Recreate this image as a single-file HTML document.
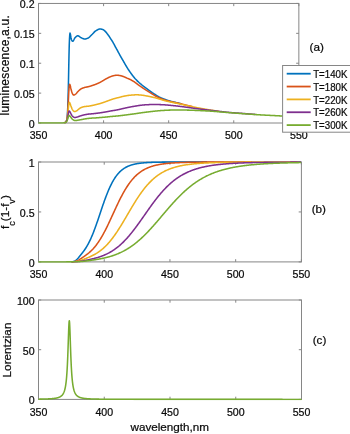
<!DOCTYPE html>
<html><head><meta charset="utf-8"><title>luminescence</title>
<style>
html,body{margin:0;padding:0;background:#fff;}
body{width:350px;height:434px;overflow:hidden;font-family:"Liberation Sans",sans-serif;}
svg{display:block;will-change:transform;transform:translateZ(0);}
text{font-family:"Liberation Sans",sans-serif;fill:#0a0a0a;stroke:#0a0a0a;stroke-width:0.22px;}
.tk{font-size:10.6px;}
.lb{font-size:11.7px;}
.lg{font-size:10.3px;}
.cv{fill:none;stroke-width:1.55;stroke-linejoin:round;stroke-linecap:butt;}
</style></head><body>
<svg width="350" height="434" viewBox="0 0 350 434">
<rect width="350" height="434" fill="#fff"/>
<rect x="38.5" y="3.45" width="260.35" height="119.55" fill="#fff" stroke="#868686" stroke-width="1"/>
<path d="M38.50,123.0v-2.7M38.50,3.45v2.7M103.59,123.0v-2.7M103.59,3.45v2.7M168.68,123.0v-2.7M168.68,3.45v2.7M233.76,123.0v-2.7M233.76,3.45v2.7M298.85,123.0v-2.7M298.85,3.45v2.7M38.5,123.00h2.7M298.85,123.00h-2.7M38.5,93.11h2.7M298.85,93.11h-2.7M38.5,63.23h2.7M298.85,63.23h-2.7M38.5,33.34h2.7M298.85,33.34h-2.7M38.5,3.45h2.7M298.85,3.45h-2.7" stroke="#868686" stroke-width="1" fill="none"/>
<clipPath id="ca"><rect x="38" y="2.5" width="261.5" height="121.3"/></clipPath><g clip-path="url(#ca)">
<path class="cv" stroke="#0072BD" d="M64.50,122.70 L64.75,122.64 L65.00,122.55 L65.25,122.43 L65.50,122.27 L65.75,122.05 L66.00,121.67 L66.25,121.15 L66.50,120.50 L66.75,119.65 L67.00,118.39 L67.25,116.55 L67.50,112.84 L67.75,107.43 L68.00,100.66 L68.25,91.31 L68.50,80.31 L68.75,66.97 L69.00,54.91 L69.25,45.00 L69.50,38.78 L69.75,34.91 L70.00,33.00 L70.25,33.66 L70.50,34.76 L70.75,36.30 L71.00,37.95 L71.25,39.16 L71.50,39.76 L71.75,40.28 L72.00,40.72 L72.25,41.05 L72.50,41.25 L72.75,41.30 L73.00,41.17 L73.25,40.89 L73.50,40.50 L73.75,40.03 L74.00,39.52 L74.25,39.01 L74.50,38.53 L74.75,38.11 L75.00,37.80 L75.25,37.55 L75.50,37.30 L75.75,37.05 L76.00,36.81 L76.25,36.58 L76.50,36.37 L76.75,36.19 L77.00,36.04 L77.25,35.92 L77.50,35.84 L77.75,35.80 L78.00,35.81 L78.25,35.87 L78.50,35.97 L78.75,36.09 L79.00,36.24 L79.25,36.41 L79.50,36.59 L79.75,36.78 L80.00,36.97 L80.25,37.15 L80.50,37.32 L80.75,37.47 L81.00,37.60 L81.25,37.72 L81.50,37.84 L81.75,37.97 L82.00,38.09 L82.25,38.22 L82.50,38.34 L82.75,38.46 L83.00,38.58 L83.25,38.68 L83.50,38.77 L83.75,38.85 L84.00,38.92 L84.25,38.96 L84.50,38.99 L84.75,39.00 L85.00,38.99 L85.25,38.96 L85.50,38.93 L85.75,38.88 L86.00,38.82 L86.25,38.75 L86.50,38.67 L86.75,38.59 L87.00,38.50 L87.25,38.40 L87.50,38.30 L87.75,38.20 L88.00,38.10 L88.25,37.98 L88.50,37.84 L88.75,37.67 L89.00,37.48 L89.25,37.28 L89.50,37.05 L89.75,36.82 L90.00,36.57 L90.25,36.31 L90.50,36.05 L90.75,35.79 L91.00,35.52 L91.25,35.25 L91.50,34.99 L91.75,34.74 L92.00,34.49 L92.25,34.26 L92.50,34.01 L92.75,33.75 L93.00,33.48 L93.25,33.21 L93.50,32.94 L93.75,32.67 L94.00,32.40 L94.25,32.14 L94.50,31.89 L94.75,31.65 L95.00,31.42 L95.25,31.22 L95.50,31.03 L95.75,30.87 L96.00,30.71 L96.25,30.56 L96.50,30.40 L96.75,30.25 L97.00,30.10 L97.25,29.95 L97.50,29.81 L97.75,29.67 L98.00,29.55 L98.25,29.43 L98.50,29.32 L98.75,29.23 L99.00,29.15 L99.25,29.09 L99.50,29.04 L99.75,29.01 L100.00,29.00 L100.25,29.01 L100.50,29.02 L100.75,29.05 L101.00,29.08 L101.25,29.12 L101.50,29.16 L101.75,29.22 L102.00,29.27 L102.25,29.34 L102.50,29.40 L102.75,29.48 L103.00,29.60 L103.25,29.73 L103.50,29.88 L103.75,30.06 L104.00,30.25 L104.25,30.45 L104.50,30.67 L104.75,30.88 L105.00,31.11 L105.25,31.34 L105.50,31.59 L105.75,31.86 L106.00,32.14 L106.25,32.44 L106.50,32.75 L106.75,33.08 L107.00,33.43 L107.25,33.78 L107.50,34.10 L107.75,34.43 L108.00,34.76 L108.25,35.10 L108.50,35.45 L108.75,35.81 L109.00,36.18 L109.25,36.55 L109.50,36.93 L109.75,37.31 L110.00,37.69 L110.25,38.08 L110.50,38.47 L110.75,38.85 L111.00,39.24 L111.25,39.60 L111.50,39.96 L111.75,40.33 L112.00,40.72 L112.25,41.12 L112.50,41.53 L112.75,41.96 L113.00,42.39 L113.25,42.84 L113.50,43.29 L113.75,43.75 L114.00,44.21 L114.25,44.68 L114.50,45.16 L114.75,45.64 L115.00,46.11 L115.25,46.59 L115.50,47.06 L115.75,47.52 L116.00,47.98 L116.25,48.44 L116.50,48.88 L116.75,49.31 L117.00,49.73 L117.25,50.18 L117.50,50.66 L117.75,51.13 L118.00,51.60 L118.25,52.07 L118.50,52.54 L118.75,53.01 L119.00,53.48 L119.25,53.94 L119.50,54.40 L119.75,54.86 L120.00,55.32 L120.25,55.77 L120.50,56.22 L120.75,56.66 L121.00,57.11 L121.25,57.55 L121.50,57.98 L121.75,58.41 L122.00,58.83 L122.25,59.25 L122.50,59.67 L122.75,60.08 L123.00,60.48 L123.25,60.89 L123.50,61.35 L123.75,61.80 L124.00,62.25 L124.25,62.70 L124.50,63.14 L124.75,63.58 L125.00,64.02 L125.25,64.45 L125.50,64.88 L125.75,65.31 L126.00,65.73 L126.25,66.15 L126.50,66.56 L126.75,66.98 L127.00,67.38 L127.25,67.79 L127.50,68.19 L127.75,68.58 L128.00,68.98 L128.25,69.36 L128.50,69.75 L128.75,70.13 L129.00,70.50 L129.25,70.87 L129.50,71.24 L129.75,71.60 L130.00,71.96 L130.25,72.32 L130.50,72.67 L130.75,73.02 L131.00,73.37 L131.25,73.72 L131.50,74.06 L131.75,74.40 L132.00,74.74 L132.25,75.08 L132.50,75.41 L132.75,75.73 L133.00,76.05 L133.25,76.37 L133.50,76.68 L133.75,76.99 L134.00,77.30 L134.25,77.60 L134.50,77.89 L134.75,78.18 L135.00,78.47 L135.25,78.74 L135.50,79.02 L135.75,79.28 L136.00,79.55 L136.25,79.81 L136.50,80.07 L136.75,80.33 L137.00,80.58 L137.25,80.83 L137.50,81.08 L137.75,81.33 L138.00,81.57 L138.25,81.81 L138.50,82.04 L138.75,82.27 L139.00,82.50 L139.25,82.72 L139.50,82.94 L139.75,83.16 L140.00,83.37 L140.25,83.58 L140.50,83.78 L140.75,83.98 L141.00,84.17 L141.25,84.36 L141.50,84.58 L141.75,84.80 L142.00,85.01 L142.25,85.22 L142.50,85.43 L142.75,85.63 L143.00,85.84 L143.25,86.03 L143.50,86.23 L143.75,86.43 L144.00,86.62 L144.25,86.81 L144.50,86.99 L144.75,87.18 L145.00,87.36 L145.25,87.55 L145.50,87.73 L145.75,87.91 L146.00,88.09 L146.25,88.27 L146.50,88.45 L146.75,88.63 L147.00,88.81 L147.25,88.99 L147.50,89.18 L147.75,89.36 L148.00,89.55 L148.25,89.74 L148.50,89.92 L148.75,90.11 L149.00,90.29 L149.25,90.47 L149.50,90.65 L149.75,90.83 L150.00,91.01 L150.25,91.19 L150.50,91.37 L150.75,91.55 L151.00,91.72 L151.25,91.90 L151.50,92.07 L151.75,92.25 L152.00,92.42 L152.25,92.60 L152.50,92.77 L152.75,92.95 L153.00,93.12 L153.25,93.30 L153.50,93.46 L153.75,93.63 L154.00,93.79 L154.25,93.95 L154.50,94.11 L154.75,94.27 L155.00,94.43 L155.25,94.59 L155.50,94.76 L155.75,94.92 L156.00,95.08 L156.25,95.24 L156.50,95.39 L156.75,95.55 L157.00,95.71 L157.25,95.86 L157.50,96.02 L157.75,96.17 L158.00,96.32 L158.25,96.47 L158.50,96.62 L158.75,96.77 L159.00,96.92 L159.25,97.06 L159.50,97.20 L159.75,97.31 L160.00,97.42 L160.25,97.53 L160.50,97.64 L160.75,97.75 L161.00,97.85 L161.25,97.96 L161.50,98.06 L161.75,98.17 L162.00,98.27 L162.25,98.37 L162.50,98.47 L162.75,98.57 L163.00,98.67 L163.25,98.76 L163.50,98.86 L163.75,98.96 L164.00,99.05 L164.25,99.15 L164.50,99.24 L164.75,99.33 L165.00,99.42 L165.25,99.51 L165.50,99.60 L165.75,99.69 L166.00,99.78 L166.25,99.87 L166.50,99.96 L166.75,100.05 L167.00,100.14 L167.25,100.23 L167.50,100.31 L167.75,100.40 L168.00,100.48 L168.25,100.56 L168.50,100.64 L168.75,100.72 L169.00,100.80 L169.25,100.88 L169.50,100.95 L169.75,101.03 L170.00,101.10 L170.25,101.17 L170.50,101.24 L170.75,101.30 L171.00,101.37 L171.25,101.43 L171.50,101.50 L171.75,101.56 L172.00,101.62 L172.25,101.68 L172.50,101.74 L172.75,101.80 L173.00,101.86 L173.25,101.92 L173.50,101.98 L173.75,102.03 L174.00,102.09 L174.25,102.15 L174.50,102.20 L174.75,102.26 L175.00,102.32 L175.25,102.37 L175.50,102.43 L175.75,102.48 L176.00,102.54 L176.25,102.60 L176.50,102.65 L176.75,102.71 L177.00,102.77 L177.25,102.82 L177.50,102.88 L177.75,102.94 L178.00,103.00 L178.25,103.06 L178.50,103.12 L178.75,103.18 L179.00,103.24 L179.25,103.30 L179.50,103.37 L179.75,103.43 L180.00,103.49 L180.25,103.55 L180.50,103.61 L180.75,103.68 L181.00,103.74 L181.25,103.80 L181.50,103.87 L181.75,103.93"/>
<path class="cv" stroke="#D95319" d="M64.50,122.70 L64.75,122.64 L65.00,122.55 L65.25,122.43 L65.50,122.27 L65.75,122.05 L66.00,121.66 L66.25,121.13 L66.50,120.50 L66.75,119.72 L67.00,118.68 L67.25,117.32 L67.50,115.27 L67.75,112.16 L68.00,108.33 L68.25,103.16 L68.50,97.89 L68.75,92.51 L69.00,88.68 L69.25,85.92 L69.50,84.66 L69.75,84.32 L70.00,84.90 L70.25,85.70 L70.50,86.76 L70.75,87.94 L71.00,89.00 L71.25,89.95 L71.50,90.91 L71.75,91.80 L72.00,92.59 L72.25,93.20 L72.50,93.67 L72.75,94.12 L73.00,94.53 L73.25,94.84 L73.50,95.05 L73.75,95.10 L74.00,95.06 L74.25,94.98 L74.50,94.86 L74.75,94.71 L75.00,94.54 L75.25,94.37 L75.50,94.20 L75.75,94.01 L76.00,93.78 L76.25,93.52 L76.50,93.24 L76.75,92.94 L77.00,92.63 L77.25,92.33 L77.50,92.03 L77.75,91.75 L78.00,91.50 L78.25,91.26 L78.50,91.02 L78.75,90.78 L79.00,90.54 L79.25,90.30 L79.50,90.07 L79.75,89.85 L80.00,89.64 L80.25,89.44 L80.50,89.25 L80.75,89.07 L81.00,88.91 L81.25,88.77 L81.50,88.64 L81.75,88.52 L82.00,88.40 L82.25,88.29 L82.50,88.18 L82.75,88.08 L83.00,87.98 L83.25,87.89 L83.50,87.81 L83.75,87.72 L84.00,87.65 L84.25,87.57 L84.50,87.50 L84.75,87.43 L85.00,87.37 L85.25,87.31 L85.50,87.26 L85.75,87.21 L86.00,87.16 L86.25,87.11 L86.50,87.07 L86.75,87.02 L87.00,86.97 L87.25,86.93 L87.50,86.88 L87.75,86.83 L88.00,86.77 L88.25,86.71 L88.50,86.65 L88.75,86.58 L89.00,86.52 L89.25,86.45 L89.50,86.38 L89.75,86.30 L90.00,86.23 L90.25,86.15 L90.50,86.08 L90.75,86.00 L91.00,85.92 L91.25,85.84 L91.50,85.76 L91.75,85.68 L92.00,85.60 L92.25,85.52 L92.50,85.44 L92.75,85.36 L93.00,85.27 L93.25,85.19 L93.50,85.10 L93.75,85.02 L94.00,84.93 L94.25,84.84 L94.50,84.75 L94.75,84.66 L95.00,84.57 L95.25,84.47 L95.50,84.38 L95.75,84.28 L96.00,84.18 L96.25,84.08 L96.50,83.98 L96.75,83.87 L97.00,83.76 L97.25,83.65 L97.50,83.54 L97.75,83.43 L98.00,83.32 L98.25,83.20 L98.50,83.09 L98.75,82.97 L99.00,82.85 L99.25,82.72 L99.50,82.60 L99.75,82.47 L100.00,82.34 L100.25,82.21 L100.50,82.07 L100.75,81.94 L101.00,81.79 L101.25,81.65 L101.50,81.51 L101.75,81.36 L102.00,81.22 L102.25,81.07 L102.50,80.93 L102.75,80.79 L103.00,80.64 L103.25,80.50 L103.50,80.35 L103.75,80.20 L104.00,80.05 L104.25,79.90 L104.50,79.75 L104.75,79.60 L105.00,79.45 L105.25,79.30 L105.50,79.16 L105.75,79.01 L106.00,78.87 L106.25,78.73 L106.50,78.60 L106.75,78.47 L107.00,78.34 L107.25,78.20 L107.50,78.07 L107.75,77.95 L108.00,77.82 L108.25,77.69 L108.50,77.57 L108.75,77.45 L109.00,77.33 L109.25,77.22 L109.50,77.11 L109.75,77.00 L110.00,76.90 L110.25,76.80 L110.50,76.70 L110.75,76.60 L111.00,76.50 L111.25,76.40 L111.50,76.30 L111.75,76.21 L112.00,76.12 L112.25,76.04 L112.50,75.96 L112.75,75.88 L113.00,75.81 L113.25,75.75 L113.50,75.70 L113.75,75.65 L114.00,75.60 L114.25,75.55 L114.50,75.50 L114.75,75.46 L115.00,75.41 L115.25,75.37 L115.50,75.33 L115.75,75.30 L116.00,75.27 L116.25,75.24 L116.50,75.22 L116.75,75.21 L117.00,75.20 L117.25,75.20 L117.50,75.21 L117.75,75.23 L118.00,75.25 L118.25,75.28 L118.50,75.32 L118.75,75.36 L119.00,75.40 L119.25,75.45 L119.50,75.50 L119.75,75.55 L120.00,75.60 L120.25,75.63 L120.50,75.66 L120.75,75.71 L121.00,75.77 L121.25,75.84 L121.50,75.91 L121.75,75.99 L122.00,76.07 L122.25,76.16 L122.50,76.25 L122.75,76.33 L123.00,76.42 L123.25,76.51 L123.50,76.60 L123.75,76.69 L124.00,76.79 L124.25,76.89 L124.50,76.99 L124.75,77.10 L125.00,77.20 L125.25,77.31 L125.50,77.43 L125.75,77.54 L126.00,77.66 L126.25,77.78 L126.50,77.90 L126.75,78.03 L127.00,78.15 L127.25,78.26 L127.50,78.36 L127.75,78.45 L128.00,78.55 L128.25,78.65 L128.50,78.75 L128.75,78.86 L129.00,78.96 L129.25,79.07 L129.50,79.18 L129.75,79.29 L130.00,79.41 L130.25,79.53 L130.50,79.66 L130.75,79.79 L131.00,79.93 L131.25,80.06 L131.50,80.20 L131.75,80.34 L132.00,80.49 L132.25,80.63 L132.50,80.77 L132.75,80.92 L133.00,81.07 L133.25,81.21 L133.50,81.35 L133.75,81.50 L134.00,81.64 L134.25,81.78 L134.50,81.97 L134.75,82.16 L135.00,82.36 L135.25,82.55 L135.50,82.74 L135.75,82.93 L136.00,83.12 L136.25,83.31 L136.50,83.50 L136.75,83.69 L137.00,83.88 L137.25,84.07 L137.50,84.25 L137.75,84.44 L138.00,84.63 L138.25,84.81 L138.50,85.00 L138.75,85.18 L139.00,85.36 L139.25,85.54 L139.50,85.72 L139.75,85.89 L140.00,86.06 L140.25,86.23 L140.50,86.40 L140.75,86.56 L141.00,86.72 L141.25,86.87 L141.50,87.04 L141.75,87.22 L142.00,87.40 L142.25,87.58 L142.50,87.76 L142.75,87.93 L143.00,88.10 L143.25,88.27 L143.50,88.44 L143.75,88.61 L144.00,88.77 L144.25,88.94 L144.50,89.10 L144.75,89.26 L145.00,89.43 L145.25,89.59 L145.50,89.75 L145.75,89.90 L146.00,90.06 L146.25,90.22 L146.50,90.38 L146.75,90.54 L147.00,90.70 L147.25,90.85 L147.50,91.01 L147.75,91.17 L148.00,91.33 L148.25,91.49 L148.50,91.64 L148.75,91.80 L149.00,91.96 L149.25,92.11 L149.50,92.27 L149.75,92.43 L150.00,92.58 L150.25,92.74 L150.50,92.90 L150.75,93.05 L151.00,93.20 L151.25,93.36 L151.50,93.51 L151.75,93.67 L152.00,93.82 L152.25,93.97 L152.50,94.13 L152.75,94.28 L153.00,94.43 L153.25,94.58 L153.50,94.74 L153.75,94.89 L154.00,95.04 L154.25,95.20 L154.50,95.35 L154.75,95.51 L155.00,95.66 L155.25,95.82 L155.50,95.97 L155.75,96.12 L156.00,96.25 L156.25,96.38 L156.50,96.51 L156.75,96.63 L157.00,96.76 L157.25,96.88 L157.50,97.01 L157.75,97.13 L158.00,97.25 L158.25,97.38 L158.50,97.50 L158.75,97.61 L159.00,97.73 L159.25,97.85 L159.50,97.96 L159.75,98.07 L160.00,98.18 L160.25,98.29 L160.50,98.40 L160.75,98.51 L161.00,98.62 L161.25,98.73 L161.50,98.83 L161.75,98.94 L162.00,99.04 L162.25,99.15 L162.50,99.25 L162.75,99.35 L163.00,99.44 L163.25,99.53 L163.50,99.61 L163.75,99.69 L164.00,99.77 L164.25,99.85 L164.50,99.93 L164.75,100.00 L165.00,100.08 L165.25,100.15 L165.50,100.23 L165.75,100.30 L166.00,100.37 L166.25,100.45 L166.50,100.52 L166.75,100.59 L167.00,100.66 L167.25,100.73 L167.50,100.80 L167.75,100.86 L168.00,100.93 L168.25,100.99 L168.50,101.06 L168.75,101.12 L169.00,101.18 L169.25,101.24 L169.50,101.29 L169.75,101.35 L170.00,101.40 L170.25,101.47 L170.50,101.53 L170.75,101.59 L171.00,101.65 L171.25,101.71 L171.50,101.77 L171.75,101.83 L172.00,101.89 L172.25,101.94 L172.50,102.00 L172.75,102.05 L173.00,102.11 L173.25,102.16 L173.50,102.21 L173.75,102.27 L174.00,102.32 L174.25,102.37 L174.50,102.42 L174.75,102.47 L175.00,102.52 L175.25,102.57 L175.50,102.62 L175.75,102.67 L176.00,102.73 L176.25,102.78 L176.50,102.83 L176.75,102.88 L177.00,102.93 L177.25,102.99 L177.50,103.04 L177.75,103.10 L178.00,103.15 L178.25,103.21 L178.50,103.26 L178.75,103.32 L179.00,103.38 L179.25,103.44 L179.50,103.50 L179.75,103.56 L180.00,103.62 L180.25,103.68 L180.50,103.74 L180.75,103.80 L181.00,103.86 L181.25,103.92 L181.50,103.98 L181.75,104.04 L182.00,104.10 L182.25,104.17 L182.50,104.23 L182.75,104.29 L183.00,104.35 L183.25,104.41 L183.50,104.48 L183.75,104.54 L184.00,104.60 L184.25,104.66 L184.50,104.73 L184.75,104.79 L185.00,104.85 L185.25,104.91 L185.50,104.97 L185.75,105.03 L186.00,105.09 L186.25,105.15 L186.50,105.21 L186.75,105.27 L187.00,105.33 L187.25,105.39 L187.50,105.45 L187.75,105.51 L188.00,105.57 L188.25,105.63 L188.50,105.69 L188.75,105.75 L189.00,105.81 L189.25,105.87 L189.50,105.93 L189.75,105.99 L190.00,106.05 L190.25,106.11 L190.50,106.17 L190.75,106.23 L191.00,106.29 L191.25,106.35 L191.50,106.41 L191.75,106.47 L192.00,106.53 L192.25,106.59 L192.50,106.65"/>
<path class="cv" stroke="#EDB120" d="M64.50,122.70 L64.75,122.65 L65.00,122.57 L65.25,122.48 L65.50,122.36 L65.75,122.17 L66.00,121.82 L66.25,121.35 L66.50,120.80 L66.75,120.14 L67.00,119.30 L67.25,118.24 L67.50,116.80 L67.75,114.81 L68.00,112.52 L68.25,109.65 L68.50,107.00 L68.75,104.80 L69.00,103.30 L69.25,102.62 L69.50,102.42 L69.75,102.85 L70.00,103.42 L70.25,104.07 L70.50,104.79 L70.75,105.52 L71.00,106.20 L71.25,106.85 L71.50,107.52 L71.75,108.17 L72.00,108.77 L72.25,109.29 L72.50,109.70 L72.75,110.05 L73.00,110.38 L73.25,110.70 L73.50,110.99 L73.75,111.24 L74.00,111.43 L74.25,111.56 L74.50,111.60 L74.75,111.58 L75.00,111.54 L75.25,111.46 L75.50,111.37 L75.75,111.26 L76.00,111.14 L76.25,111.02 L76.50,110.90 L76.75,110.76 L77.00,110.60 L77.25,110.41 L77.50,110.20 L77.75,109.98 L78.00,109.75 L78.25,109.52 L78.50,109.30 L78.75,109.09 L79.00,108.90 L79.25,108.72 L79.50,108.53 L79.75,108.35 L80.00,108.17 L80.25,108.02 L80.50,107.87 L80.75,107.74 L81.00,107.61 L81.25,107.50 L81.50,107.40 L81.75,107.31 L82.00,107.22 L82.25,107.14 L82.50,107.06 L82.75,106.98 L83.00,106.91 L83.25,106.84 L83.50,106.78 L83.75,106.72 L84.00,106.67 L84.25,106.62 L84.50,106.57 L84.75,106.53 L85.00,106.50 L85.25,106.47 L85.50,106.44 L85.75,106.42 L86.00,106.40 L86.25,106.38 L86.50,106.36 L86.75,106.35 L87.00,106.34 L87.25,106.33 L87.50,106.31 L87.75,106.30 L88.00,106.29 L88.25,106.24 L88.50,106.19 L88.75,106.15 L89.00,106.10 L89.25,106.05 L89.50,106.00 L89.75,105.96 L90.00,105.91 L90.25,105.87 L90.50,105.82 L90.75,105.78 L91.00,105.73 L91.25,105.68 L91.50,105.63 L91.75,105.58 L92.00,105.53 L92.25,105.48 L92.50,105.43 L92.75,105.37 L93.00,105.32 L93.25,105.26 L93.50,105.20 L93.75,105.15 L94.00,105.09 L94.25,105.03 L94.50,104.97 L94.75,104.91 L95.00,104.85 L95.25,104.79 L95.50,104.73 L95.75,104.67 L96.00,104.61 L96.25,104.55 L96.50,104.49 L96.75,104.43 L97.00,104.37 L97.25,104.31 L97.50,104.25 L97.75,104.19 L98.00,104.12 L98.25,104.06 L98.50,103.99 L98.75,103.93 L99.00,103.86 L99.25,103.79 L99.50,103.72 L99.75,103.65 L100.00,103.57 L100.25,103.50 L100.50,103.42 L100.75,103.34 L101.00,103.26 L101.25,103.18 L101.50,103.10 L101.75,103.02 L102.00,102.94 L102.25,102.85 L102.50,102.77 L102.75,102.68 L103.00,102.60 L103.25,102.51 L103.50,102.43 L103.75,102.34 L104.00,102.25 L104.25,102.16 L104.50,102.08 L104.75,101.99 L105.00,101.89 L105.25,101.80 L105.50,101.71 L105.75,101.62 L106.00,101.53 L106.25,101.44 L106.50,101.35 L106.75,101.26 L107.00,101.17 L107.25,101.08 L107.50,100.99 L107.75,100.90 L108.00,100.80 L108.25,100.71 L108.50,100.62 L108.75,100.53 L109.00,100.44 L109.25,100.34 L109.50,100.25 L109.75,100.16 L110.00,100.07 L110.25,99.98 L110.50,99.89 L110.75,99.80 L111.00,99.71 L111.25,99.61 L111.50,99.52 L111.75,99.43 L112.00,99.34 L112.25,99.25 L112.50,99.16 L112.75,99.07 L113.00,98.97 L113.25,98.91 L113.50,98.85 L113.75,98.79 L114.00,98.72 L114.25,98.66 L114.50,98.59 L114.75,98.52 L115.00,98.45 L115.25,98.39 L115.50,98.32 L115.75,98.25 L116.00,98.19 L116.25,98.12 L116.50,98.06 L116.75,97.99 L117.00,97.93 L117.25,97.87 L117.50,97.81 L117.75,97.75 L118.00,97.69 L118.25,97.63 L118.50,97.57 L118.75,97.51 L119.00,97.45 L119.25,97.39 L119.50,97.33 L119.75,97.27 L120.00,97.21 L120.25,97.13 L120.50,97.05 L120.75,96.98 L121.00,96.90 L121.25,96.83 L121.50,96.76 L121.75,96.69 L122.00,96.62 L122.25,96.56 L122.50,96.50 L122.75,96.44 L123.00,96.39 L123.25,96.33 L123.50,96.28 L123.75,96.23 L124.00,96.18 L124.25,96.13 L124.50,96.08 L124.75,96.03 L125.00,95.98 L125.25,95.94 L125.50,95.89 L125.75,95.84 L126.00,95.80 L126.25,95.76 L126.50,95.72 L126.75,95.68 L127.00,95.64 L127.25,95.60 L127.50,95.55 L127.75,95.51 L128.00,95.47 L128.25,95.43 L128.50,95.39 L128.75,95.36 L129.00,95.33 L129.25,95.31 L129.50,95.28 L129.75,95.26 L130.00,95.24 L130.25,95.21 L130.50,95.19 L130.75,95.17 L131.00,95.15 L131.25,95.12 L131.50,95.10 L131.75,95.08 L132.00,95.06 L132.25,95.04 L132.50,95.02 L132.75,95.01 L133.00,94.99 L133.25,94.97 L133.50,94.95 L133.75,94.94 L134.00,94.92 L134.25,94.91 L134.50,94.89 L134.75,94.87 L135.00,94.85 L135.25,94.83 L135.50,94.82 L135.75,94.80 L136.00,94.80 L136.25,94.79 L136.50,94.79 L136.75,94.79 L137.00,94.79 L137.25,94.80 L137.50,94.81 L137.75,94.82 L138.00,94.83 L138.25,94.85 L138.50,94.87 L138.75,94.88 L139.00,94.90 L139.25,94.92 L139.50,94.95 L139.75,94.97 L140.00,94.99 L140.25,95.01 L140.50,95.04 L140.75,95.06 L141.00,95.08 L141.25,95.10 L141.50,95.12 L141.75,95.15 L142.00,95.18 L142.25,95.21 L142.50,95.24 L142.75,95.27 L143.00,95.31 L143.25,95.35 L143.50,95.39 L143.75,95.43 L144.00,95.47 L144.25,95.51 L144.50,95.56 L144.75,95.60 L145.00,95.65 L145.25,95.69 L145.50,95.74 L145.75,95.79 L146.00,95.83 L146.25,95.88 L146.50,95.92 L146.75,95.97 L147.00,96.01 L147.25,96.06 L147.50,96.10 L147.75,96.14 L148.00,96.19 L148.25,96.23 L148.50,96.27 L148.75,96.32 L149.00,96.38 L149.25,96.43 L149.50,96.49 L149.75,96.54 L150.00,96.60 L150.25,96.65 L150.50,96.71 L150.75,96.77 L151.00,96.82 L151.25,96.88 L151.50,96.93 L151.75,96.99 L152.00,97.05 L152.25,97.10 L152.50,97.16 L152.75,97.22 L153.00,97.27 L153.25,97.33 L153.50,97.39 L153.75,97.44 L154.00,97.50 L154.25,97.56 L154.50,97.62 L154.75,97.68 L155.00,97.73 L155.25,97.79 L155.50,97.85 L155.75,97.91 L156.00,97.99 L156.25,98.06 L156.50,98.14 L156.75,98.22 L157.00,98.29 L157.25,98.37 L157.50,98.45 L157.75,98.52 L158.00,98.60 L158.25,98.68 L158.50,98.75 L158.75,98.83 L159.00,98.91 L159.25,98.98 L159.50,99.06 L159.75,99.14 L160.00,99.21 L160.25,99.29 L160.50,99.37 L160.75,99.45 L161.00,99.53 L161.25,99.61 L161.50,99.68 L161.75,99.76 L162.00,99.84 L162.25,99.92 L162.50,100.00 L162.75,100.08 L163.00,100.15 L163.25,100.23 L163.50,100.30 L163.75,100.37 L164.00,100.44 L164.25,100.51 L164.50,100.57 L164.75,100.64 L165.00,100.71 L165.25,100.77 L165.50,100.84 L165.75,100.90 L166.00,100.96 L166.25,101.03 L166.50,101.09 L166.75,101.15 L167.00,101.21 L167.25,101.27 L167.50,101.33 L167.75,101.39 L168.00,101.45 L168.25,101.51 L168.50,101.56 L168.75,101.62 L169.00,101.68 L169.25,101.73 L169.50,101.79 L169.75,101.85 L170.00,101.90 L170.25,101.96 L170.50,102.01 L170.75,102.07 L171.00,102.12 L171.25,102.17 L171.50,102.23 L171.75,102.28 L172.00,102.33 L172.25,102.38 L172.50,102.43 L172.75,102.48 L173.00,102.53 L173.25,102.58 L173.50,102.63 L173.75,102.68 L174.00,102.73 L174.25,102.78 L174.50,102.83 L174.75,102.88 L175.00,102.93 L175.25,102.98 L175.50,103.03 L175.75,103.08 L176.00,103.13 L176.25,103.18 L176.50,103.23 L176.75,103.28 L177.00,103.33 L177.25,103.39 L177.50,103.44 L177.75,103.49 L178.00,103.54 L178.25,103.60 L178.50,103.65 L178.75,103.70 L179.00,103.76 L179.25,103.82 L179.50,103.87 L179.75,103.93 L180.00,103.98 L180.25,104.04 L180.50,104.10 L180.75,104.15 L181.00,104.21 L181.25,104.27 L181.50,104.33 L181.75,104.39 L182.00,104.44 L182.25,104.50 L182.50,104.56 L182.75,104.62 L183.00,104.68 L183.25,104.74 L183.50,104.80 L183.75,104.86 L184.00,104.92 L184.25,104.97 L184.50,105.03 L184.75,105.09 L185.00,105.15 L185.25,105.21 L185.50,105.26 L185.75,105.31 L186.00,105.37 L186.25,105.42 L186.50,105.47 L186.75,105.53 L187.00,105.58 L187.25,105.63 L187.50,105.68 L187.75,105.74 L188.00,105.79 L188.25,105.84 L188.50,105.90 L188.75,105.95 L189.00,106.00 L189.25,106.06 L189.50,106.11 L189.75,106.16 L190.00,106.22 L190.25,106.27 L190.50,106.32 L190.75,106.38 L191.00,106.43 L191.25,106.48 L191.50,106.54 L191.75,106.59 L192.00,106.64 L192.25,106.69 L192.50,106.75 L192.75,106.80 L193.00,106.85 L193.25,106.90 L193.50,106.96 L193.75,107.01 L194.00,107.06 L194.25,107.11 L194.50,107.16 L194.75,107.21 L195.00,107.26 L195.25,107.31 L195.50,107.36 L195.75,107.41 L196.00,107.46 L196.25,107.51 L196.50,107.56 L196.75,107.61 L197.00,107.65 L197.25,107.70 L197.50,107.75 L197.75,107.80 L198.00,107.85 L198.25,107.89 L198.50,107.94 L198.75,107.99 L199.00,108.04 L199.25,108.08 L199.50,108.13 L199.75,108.18 L200.00,108.23 L200.25,108.27 L200.50,108.32 L200.75,108.36 L201.00,108.41 L201.25,108.46 L201.50,108.50 L201.75,108.55 L202.00,108.59 L202.25,108.64 L202.50,108.68 L202.75,108.73 L203.00,108.77 L203.25,108.82 L203.50,108.86 L203.75,108.90 L204.00,108.95 L204.25,108.99 L204.50,109.03 L204.75,109.08 L205.00,109.12 L205.25,109.16 L205.50,109.21 L205.75,109.25 L206.00,109.29 L206.25,109.34 L206.50,109.38 L206.75,109.42 L207.00,109.46 L207.25,109.51 L207.50,109.55 L207.75,109.59 L208.00,109.63 L208.25,109.67 L208.50,109.72 L208.75,109.76 L209.00,109.80 L209.25,109.84 L209.50,109.88 L209.75,109.92 L210.00,109.96 L210.25,110.00 L210.50,110.04 L210.75,110.08 L211.00,110.12 L211.25,110.15 L211.50,110.19 L211.75,110.23 L212.00,110.27 L212.25,110.31 L212.50,110.34 L212.75,110.38 L213.00,110.41 L213.25,110.45 L213.50,110.49 L213.75,110.52 L214.00,110.56 L214.25,110.59 L214.50,110.63 L214.75,110.66 L215.00,110.69 L215.25,110.73 L215.50,110.76 L215.75,110.80 L216.00,110.83 L216.25,110.86 L216.50,110.90 L216.75,110.93 L217.00,110.96 L217.25,110.99 L217.50,111.03 L217.75,111.06 L218.00,111.09 L218.25,111.12 L218.50,111.15 L218.75,111.18"/>
<path class="cv" stroke="#7E2F8E" d="M64.50,122.70 L64.75,122.65 L65.00,122.60 L65.25,122.53 L65.50,122.44 L65.75,122.30 L66.00,122.02 L66.25,121.63 L66.50,121.20 L66.75,120.72 L67.00,120.12 L67.25,119.37 L67.50,118.31 L67.75,116.87 L68.00,115.42 L68.25,113.86 L68.50,112.60 L68.75,111.73 L69.00,111.20 L69.25,111.01 L69.50,111.14 L69.75,111.53 L70.00,111.91 L70.25,112.36 L70.50,112.85 L70.75,113.34 L71.00,113.80 L71.25,114.25 L71.50,114.71 L71.75,115.16 L72.00,115.58 L72.25,115.93 L72.50,116.20 L72.75,116.41 L73.00,116.62 L73.25,116.82 L73.50,117.00 L73.75,117.16 L74.00,117.29 L74.25,117.40 L74.50,117.47 L74.75,117.50 L75.00,117.49 L75.25,117.47 L75.50,117.44 L75.75,117.40 L76.00,117.34 L76.25,117.29 L76.50,117.22 L76.75,117.16 L77.00,117.10 L77.25,117.03 L77.50,116.96 L77.75,116.87 L78.00,116.78 L78.25,116.68 L78.50,116.58 L78.75,116.49 L79.00,116.40 L79.25,116.31 L79.50,116.23 L79.75,116.14 L80.00,116.05 L80.25,115.97 L80.50,115.88 L80.75,115.80 L81.00,115.72 L81.25,115.64 L81.50,115.57 L81.75,115.50 L82.00,115.43 L82.25,115.36 L82.50,115.29 L82.75,115.23 L83.00,115.16 L83.25,115.10 L83.50,115.04 L83.75,114.97 L84.00,114.92 L84.25,114.86 L84.50,114.80 L84.75,114.75 L85.00,114.70 L85.25,114.65 L85.50,114.60 L85.75,114.55 L86.00,114.51 L86.25,114.46 L86.50,114.41 L86.75,114.37 L87.00,114.33 L87.25,114.29 L87.50,114.25 L87.75,114.21 L88.00,114.18 L88.25,114.14 L88.50,114.11 L88.75,114.08 L89.00,114.06 L89.25,114.03 L89.50,114.01 L89.75,113.99 L90.00,113.97 L90.25,113.95 L90.50,113.93 L90.75,113.91 L91.00,113.89 L91.25,113.87 L91.50,113.85 L91.75,113.82 L92.00,113.80 L92.25,113.78 L92.50,113.75 L92.75,113.73 L93.00,113.70 L93.25,113.67 L93.50,113.65 L93.75,113.62 L94.00,113.59 L94.25,113.57 L94.50,113.54 L94.75,113.51 L95.00,113.48 L95.25,113.45 L95.50,113.42 L95.75,113.39 L96.00,113.36 L96.25,113.33 L96.50,113.30 L96.75,113.27 L97.00,113.24 L97.25,113.21 L97.50,113.17 L97.75,113.14 L98.00,113.11 L98.25,113.07 L98.50,113.04 L98.75,113.00 L99.00,112.97 L99.25,112.93 L99.50,112.90 L99.75,112.87 L100.00,112.83 L100.25,112.79 L100.50,112.76 L100.75,112.72 L101.00,112.69 L101.25,112.65 L101.50,112.61 L101.75,112.58 L102.00,112.54 L102.25,112.50 L102.50,112.46 L102.75,112.42 L103.00,112.38 L103.25,112.35 L103.50,112.31 L103.75,112.27 L104.00,112.23 L104.25,112.19 L104.50,112.14 L104.75,112.10 L105.00,112.06 L105.25,112.02 L105.50,111.98 L105.75,111.93 L106.00,111.89 L106.25,111.85 L106.50,111.80 L106.75,111.75 L107.00,111.71 L107.25,111.66 L107.50,111.61 L107.75,111.56 L108.00,111.50 L108.25,111.45 L108.50,111.40 L108.75,111.35 L109.00,111.30 L109.25,111.25 L109.50,111.20 L109.75,111.15 L110.00,111.10 L110.25,111.05 L110.50,111.01 L110.75,110.97 L111.00,110.92 L111.25,110.88 L111.50,110.84 L111.75,110.80 L112.00,110.76 L112.25,110.72 L112.50,110.68 L112.75,110.64 L113.00,110.60 L113.25,110.56 L113.50,110.52 L113.75,110.48 L114.00,110.44 L114.25,110.40 L114.50,110.36 L114.75,110.32 L115.00,110.28 L115.25,110.23 L115.50,110.19 L115.75,110.15 L116.00,110.10 L116.25,110.06 L116.50,110.01 L116.75,109.97 L117.00,109.92 L117.25,109.87 L117.50,109.82 L117.75,109.77 L118.00,109.71 L118.25,109.66 L118.50,109.61 L118.75,109.55 L119.00,109.49 L119.25,109.43 L119.50,109.38 L119.75,109.32 L120.00,109.26 L120.25,109.20 L120.50,109.14 L120.75,109.08 L121.00,109.02 L121.25,108.96 L121.50,108.90 L121.75,108.84 L122.00,108.78 L122.25,108.72 L122.50,108.66 L122.75,108.60 L123.00,108.54 L123.25,108.49 L123.50,108.43 L123.75,108.38 L124.00,108.32 L124.25,108.27 L124.50,108.21 L124.75,108.15 L125.00,108.10 L125.25,108.04 L125.50,107.99 L125.75,107.93 L126.00,107.87 L126.25,107.82 L126.50,107.76 L126.75,107.71 L127.00,107.66 L127.25,107.60 L127.50,107.55 L127.75,107.50 L128.00,107.44 L128.25,107.39 L128.50,107.34 L128.75,107.29 L129.00,107.24 L129.25,107.19 L129.50,107.14 L129.75,107.09 L130.00,107.04 L130.25,107.00 L130.50,106.95 L130.75,106.90 L131.00,106.85 L131.25,106.81 L131.50,106.76 L131.75,106.72 L132.00,106.67 L132.25,106.62 L132.50,106.58 L132.75,106.54 L133.00,106.49 L133.25,106.45 L133.50,106.40 L133.75,106.36 L134.00,106.32 L134.25,106.27 L134.50,106.23 L134.75,106.19 L135.00,106.15 L135.25,106.11 L135.50,106.07 L135.75,106.03 L136.00,105.98 L136.25,105.94 L136.50,105.90 L136.75,105.86 L137.00,105.82 L137.25,105.78 L137.50,105.74 L137.75,105.69 L138.00,105.65 L138.25,105.61 L138.50,105.58 L138.75,105.54 L139.00,105.50 L139.25,105.46 L139.50,105.43 L139.75,105.39 L140.00,105.36 L140.25,105.32 L140.50,105.29 L140.75,105.26 L141.00,105.23 L141.25,105.21 L141.50,105.18 L141.75,105.15 L142.00,105.13 L142.25,105.10 L142.50,105.08 L142.75,105.05 L143.00,105.03 L143.25,105.00 L143.50,104.98 L143.75,104.96 L144.00,104.94 L144.25,104.91 L144.50,104.89 L144.75,104.87 L145.00,104.85 L145.25,104.83 L145.50,104.81 L145.75,104.80 L146.00,104.78 L146.25,104.76 L146.50,104.75 L146.75,104.73 L147.00,104.72 L147.25,104.71 L147.50,104.70 L147.75,104.68 L148.00,104.67 L148.25,104.66 L148.50,104.65 L148.75,104.64 L149.00,104.62 L149.25,104.61 L149.50,104.60 L149.75,104.59 L150.00,104.58 L150.25,104.57 L150.50,104.56 L150.75,104.55 L151.00,104.54 L151.25,104.54 L151.50,104.53 L151.75,104.52 L152.00,104.52 L152.25,104.51 L152.50,104.51 L152.75,104.50 L153.00,104.50 L153.25,104.50 L153.50,104.50 L153.75,104.50 L154.00,104.50 L154.25,104.50 L154.50,104.50 L154.75,104.51 L155.00,104.51 L155.25,104.51 L155.50,104.52 L155.75,104.52 L156.00,104.52 L156.25,104.53 L156.50,104.53 L156.75,104.54 L157.00,104.54 L157.25,104.55 L157.50,104.55 L157.75,104.56 L158.00,104.56 L158.25,104.57 L158.50,104.58 L158.75,104.58 L159.00,104.59 L159.25,104.59 L159.50,104.60 L159.75,104.61 L160.00,104.61 L160.25,104.62 L160.50,104.63 L160.75,104.64 L161.00,104.65 L161.25,104.66 L161.50,104.67 L161.75,104.68 L162.00,104.69 L162.25,104.71 L162.50,104.72 L162.75,104.73 L163.00,104.75 L163.25,104.76 L163.50,104.78 L163.75,104.79 L164.00,104.81 L164.25,104.82 L164.50,104.84 L164.75,104.85 L165.00,104.87 L165.25,104.88 L165.50,104.90 L165.75,104.92 L166.00,104.93 L166.25,104.95 L166.50,104.97 L166.75,104.99 L167.00,105.02 L167.25,105.04 L167.50,105.06 L167.75,105.08 L168.00,105.11 L168.25,105.13 L168.50,105.15 L168.75,105.18 L169.00,105.20 L169.25,105.23 L169.50,105.25 L169.75,105.28 L170.00,105.30 L170.25,105.32 L170.50,105.35 L170.75,105.37 L171.00,105.40 L171.25,105.42 L171.50,105.45 L171.75,105.47 L172.00,105.49 L172.25,105.52 L172.50,105.54 L172.75,105.57 L173.00,105.59 L173.25,105.62 L173.50,105.65 L173.75,105.67 L174.00,105.70 L174.25,105.72 L174.50,105.75 L174.75,105.78 L175.00,105.80 L175.25,105.83 L175.50,105.85 L175.75,105.88 L176.00,105.91 L176.25,105.94 L176.50,105.96 L176.75,105.99 L177.00,106.02 L177.25,106.05 L177.50,106.07 L177.75,106.10 L178.00,106.13 L178.25,106.16 L178.50,106.19 L178.75,106.22 L179.00,106.25 L179.25,106.28 L179.50,106.31 L179.75,106.34 L180.00,106.37 L180.25,106.40 L180.50,106.43 L180.75,106.46 L181.00,106.49 L181.25,106.52 L181.50,106.55 L181.75,106.59 L182.00,106.62 L182.25,106.65 L182.50,106.68 L182.75,106.72 L183.00,106.75 L183.25,106.78 L183.50,106.82 L183.75,106.85 L184.00,106.88 L184.25,106.92 L184.50,106.95 L184.75,106.98 L185.00,107.02 L185.25,107.05 L185.50,107.08 L185.75,107.12 L186.00,107.15 L186.25,107.19 L186.50,107.22 L186.75,107.25 L187.00,107.29 L187.25,107.32 L187.50,107.35 L187.75,107.39 L188.00,107.42 L188.25,107.46 L188.50,107.49 L188.75,107.53 L189.00,107.56 L189.25,107.60 L189.50,107.63 L189.75,107.67 L190.00,107.70 L190.25,107.74 L190.50,107.77 L190.75,107.81 L191.00,107.84 L191.25,107.88 L191.50,107.92 L191.75,107.95 L192.00,107.99 L192.25,108.02 L192.50,108.06 L192.75,108.09 L193.00,108.13 L193.25,108.16 L193.50,108.20 L193.75,108.23 L194.00,108.27 L194.25,108.30 L194.50,108.34 L194.75,108.37 L195.00,108.41 L195.25,108.44 L195.50,108.47 L195.75,108.51 L196.00,108.54 L196.25,108.57 L196.50,108.61 L196.75,108.64 L197.00,108.67 L197.25,108.71 L197.50,108.74 L197.75,108.77 L198.00,108.80 L198.25,108.84 L198.50,108.87 L198.75,108.90 L199.00,108.93 L199.25,108.97 L199.50,109.00 L199.75,109.03 L200.00,109.06 L200.25,109.09 L200.50,109.13 L200.75,109.16 L201.00,109.19 L201.25,109.22 L201.50,109.25 L201.75,109.28 L202.00,109.32 L202.25,109.35 L202.50,109.38 L202.75,109.41 L203.00,109.44 L203.25,109.47 L203.50,109.50 L203.75,109.53 L204.00,109.56 L204.25,109.59 L204.50,109.62 L204.75,109.65 L205.00,109.68 L205.25,109.71 L205.50,109.74 L205.75,109.77 L206.00,109.80 L206.25,109.83 L206.50,109.86 L206.75,109.89 L207.00,109.92 L207.25,109.95 L207.50,109.98 L207.75,110.01 L208.00,110.04 L208.25,110.07 L208.50,110.09 L208.75,110.12 L209.00,110.15 L209.25,110.18 L209.50,110.21 L209.75,110.24 L210.00,110.27 L210.25,110.29 L210.50,110.32 L210.75,110.35 L211.00,110.38 L211.25,110.41 L211.50,110.44 L211.75,110.47 L212.00,110.50 L212.25,110.52 L212.50,110.55 L212.75,110.58 L213.00,110.61 L213.25,110.64 L213.50,110.67 L213.75,110.70 L214.00,110.73 L214.25,110.76 L214.50,110.79 L214.75,110.82 L215.00,110.85 L215.25,110.88 L215.50,110.91 L215.75,110.94 L216.00,110.97 L216.25,111.00 L216.50,111.03 L216.75,111.06 L217.00,111.09 L217.25,111.12 L217.50,111.15 L217.75,111.18 L218.00,111.21 L218.25,111.24 L218.50,111.27 L218.75,111.30 L219.00,111.33 L219.25,111.36 L219.50,111.38 L219.75,111.41 L220.00,111.44 L220.25,111.47 L220.50,111.50 L220.75,111.53 L221.00,111.56 L221.25,111.58 L221.50,111.61 L221.75,111.64 L222.00,111.67 L222.25,111.69 L222.50,111.72 L222.75,111.75 L223.00,111.78 L223.25,111.81 L223.50,111.83 L223.75,111.86 L224.00,111.89 L224.25,111.92 L224.50,111.94 L224.75,111.97 L225.00,112.00 L225.25,112.03 L225.50,112.05 L225.75,112.08 L226.00,112.11 L226.25,112.13 L226.50,112.16 L226.75,112.19 L227.00,112.21 L227.25,112.24 L227.50,112.26 L227.75,112.29 L228.00,112.31 L228.25,112.34 L228.50,112.36 L228.75,112.39 L229.00,112.41 L229.25,112.43 L229.50,112.46 L229.75,112.48 L230.00,112.50 L230.25,112.52 L230.50,112.54 L230.75,112.56 L231.00,112.59 L231.25,112.61 L231.50,112.63 L231.75,112.65 L232.00,112.67 L232.25,112.69 L232.50,112.71 L232.75,112.73 L233.00,112.75 L233.25,112.76 L233.50,112.78 L233.75,112.80 L234.00,112.82 L234.25,112.84 L234.50,112.86 L234.75,112.88 L235.00,112.89 L235.25,112.91 L235.50,112.93 L235.75,112.95 L236.00,112.97 L236.25,112.98 L236.50,113.00 L236.75,113.02 L237.00,113.04 L237.25,113.05 L237.50,113.07 L237.75,113.09 L238.00,113.11 L238.25,113.12 L238.50,113.14 L238.75,113.16 L239.00,113.18 L239.25,113.19 L239.50,113.21 L239.75,113.23 L240.00,113.25 L240.25,113.26 L240.50,113.28 L240.75,113.30 L241.00,113.32 L241.25,113.34 L241.50,113.36 L241.75,113.37 L242.00,113.39 L242.25,113.41 L242.50,113.43 L242.75,113.45 L243.00,113.47 L243.25,113.49 L243.50,113.51 L243.75,113.53 L244.00,113.55 L244.25,113.56 L244.50,113.58 L244.75,113.60 L245.00,113.62 L245.25,113.64 L245.50,113.66 L245.75,113.68 L246.00,113.70 L246.25,113.72 L246.50,113.74 L246.75,113.76 L247.00,113.78 L247.25,113.80 L247.50,113.82 L247.75,113.84 L248.00,113.86 L248.25,113.88 L248.50,113.90 L248.75,113.92 L249.00,113.94 L249.25,113.96 L249.50,113.98 L249.75,114.00 L250.00,114.02 L250.25,114.04 L250.50,114.06 L250.75,114.08 L251.00,114.10 L251.25,114.12 L251.50,114.14 L251.75,114.16 L252.00,114.18 L252.25,114.20 L252.50,114.22 L252.75,114.24 L253.00,114.26 L253.25,114.28 L253.50,114.30 L253.75,114.31 L254.00,114.33 L254.25,114.35 L254.50,114.37 L254.75,114.39 L255.00,114.41 L255.25,114.43 L255.50,114.44"/>
<path class="cv" stroke="#77AC30" d="M38.50,123.00 L38.75,123.00 L39.00,123.00 L39.25,123.00 L39.50,123.00 L39.75,123.00 L40.00,123.00 L40.25,123.00 L40.50,123.00 L40.75,123.00 L41.00,123.00 L41.25,123.00 L41.50,123.00 L41.75,123.00 L42.00,123.00 L42.25,123.00 L42.50,123.00 L42.75,123.00 L43.00,123.00 L43.25,123.00 L43.50,123.00 L43.75,123.00 L44.00,123.00 L44.25,123.00 L44.50,123.00 L44.75,123.00 L45.00,123.00 L45.25,123.00 L45.50,123.00 L45.75,123.00 L46.00,123.00 L46.25,123.00 L46.50,123.00 L46.75,123.00 L47.00,123.00 L47.25,123.00 L47.50,123.00 L47.75,123.00 L48.00,123.00 L48.25,123.00 L48.50,123.00 L48.75,123.00 L49.00,123.00 L49.25,123.00 L49.50,123.00 L49.75,123.00 L50.00,123.00 L50.25,123.00 L50.50,123.00 L50.75,123.00 L51.00,123.00 L51.25,123.00 L51.50,123.00 L51.75,123.00 L52.00,123.00 L52.25,123.00 L52.50,123.00 L52.75,123.00 L53.00,123.00 L53.25,123.00 L53.50,123.00 L53.75,123.00 L54.00,123.00 L54.25,123.00 L54.50,123.00 L54.75,123.00 L55.00,123.00 L55.25,123.00 L55.50,123.00 L55.75,123.00 L56.00,123.00 L56.25,123.00 L56.50,123.00 L56.75,123.00 L57.00,123.00 L57.25,123.00 L57.50,123.00 L57.75,123.00 L58.00,123.00 L58.25,123.00 L58.50,123.00 L58.75,123.00 L59.00,123.00 L59.25,123.00 L59.50,123.00 L59.75,123.00 L60.00,123.00 L60.25,123.00 L60.50,123.00 L60.75,123.00 L61.00,123.00 L61.25,123.00 L61.50,123.00 L61.75,123.00 L62.00,123.00 L62.25,122.99 L62.50,122.98 L62.75,122.96 L63.00,122.93 L63.25,122.90 L63.50,122.86 L63.75,122.82 L64.00,122.78 L64.25,122.74 L64.50,122.70 L64.75,122.67 L65.00,122.63 L65.25,122.59 L65.50,122.53 L65.75,122.43 L66.00,122.21 L66.25,121.92 L66.50,121.60 L66.75,121.25 L67.00,120.83 L67.25,120.31 L67.50,119.61 L67.75,118.71 L68.00,117.88 L68.25,117.06 L68.50,116.40 L68.75,115.90 L69.00,115.60 L69.25,115.50 L69.50,115.59 L69.75,115.85 L70.00,116.12 L70.25,116.44 L70.50,116.80 L70.75,117.16 L71.00,117.50 L71.25,117.83 L71.50,118.17 L71.75,118.50 L72.00,118.82 L72.25,119.09 L72.50,119.30 L72.75,119.48 L73.00,119.65 L73.25,119.82 L73.50,119.98 L73.75,120.12 L74.00,120.25 L74.25,120.35 L74.50,120.43 L74.75,120.48 L75.00,120.50 L75.25,120.50 L75.50,120.49 L75.75,120.48 L76.00,120.46 L76.25,120.44 L76.50,120.41 L76.75,120.39 L77.00,120.36 L77.25,120.33 L77.50,120.30 L77.75,120.26 L78.00,120.22 L78.25,120.16 L78.50,120.11 L78.75,120.05 L79.00,120.00 L79.25,119.96 L79.50,119.91 L79.75,119.87 L80.00,119.83 L80.25,119.79 L80.50,119.75 L80.75,119.71 L81.00,119.67 L81.25,119.63 L81.50,119.58 L81.75,119.54 L82.00,119.49 L82.25,119.44 L82.50,119.39 L82.75,119.34 L83.00,119.28 L83.25,119.23 L83.50,119.18 L83.75,119.13 L84.00,119.08 L84.25,119.03 L84.50,118.99 L84.75,118.94 L85.00,118.90 L85.25,118.86 L85.50,118.82 L85.75,118.78 L86.00,118.74 L86.25,118.71 L86.50,118.67 L86.75,118.63 L87.00,118.60 L87.25,118.56 L87.50,118.53 L87.75,118.50 L88.00,118.47 L88.25,118.44 L88.50,118.41 L88.75,118.38 L89.00,118.36 L89.25,118.33 L89.50,118.31 L89.75,118.28 L90.00,118.26 L90.25,118.24 L90.50,118.22 L90.75,118.19 L91.00,118.17 L91.25,118.15 L91.50,118.14 L91.75,118.12 L92.00,118.10 L92.25,118.08 L92.50,118.07 L92.75,118.05 L93.00,118.04 L93.25,118.03 L93.50,118.02 L93.75,118.00 L94.00,117.99 L94.25,117.98 L94.50,117.97 L94.75,117.95 L95.00,117.94 L95.25,117.93 L95.50,117.91 L95.75,117.90 L96.00,117.88 L96.25,117.86 L96.50,117.84 L96.75,117.83 L97.00,117.81 L97.25,117.79 L97.50,117.77 L97.75,117.75 L98.00,117.73 L98.25,117.71 L98.50,117.68 L98.75,117.66 L99.00,117.64 L99.25,117.62 L99.50,117.60 L99.75,117.58 L100.00,117.56 L100.25,117.54 L100.50,117.51 L100.75,117.49 L101.00,117.47 L101.25,117.45 L101.50,117.42 L101.75,117.40 L102.00,117.38 L102.25,117.36 L102.50,117.33 L102.75,117.31 L103.00,117.29 L103.25,117.27 L103.50,117.25 L103.75,117.23 L104.00,117.21 L104.25,117.19 L104.50,117.17 L104.75,117.15 L105.00,117.13 L105.25,117.11 L105.50,117.09 L105.75,117.07 L106.00,117.05 L106.25,117.02 L106.50,117.00 L106.75,116.98 L107.00,116.95 L107.25,116.92 L107.50,116.89 L107.75,116.86 L108.00,116.83 L108.25,116.80 L108.50,116.77 L108.75,116.74 L109.00,116.71 L109.25,116.68 L109.50,116.65 L109.75,116.63 L110.00,116.60 L110.25,116.58 L110.50,116.55 L110.75,116.53 L111.00,116.51 L111.25,116.48 L111.50,116.46 L111.75,116.44 L112.00,116.42 L112.25,116.40 L112.50,116.38 L112.75,116.36 L113.00,116.34 L113.25,116.32 L113.50,116.30 L113.75,116.28 L114.00,116.26 L114.25,116.24 L114.50,116.22 L114.75,116.21 L115.00,116.18 L115.25,116.16 L115.50,116.14 L115.75,116.12 L116.00,116.10 L116.25,116.08 L116.50,116.06 L116.75,116.03 L117.00,116.01 L117.25,115.99 L117.50,115.96 L117.75,115.93 L118.00,115.91 L118.25,115.88 L118.50,115.86 L118.75,115.83 L119.00,115.80 L119.25,115.77 L119.50,115.74 L119.75,115.72 L120.00,115.69 L120.25,115.66 L120.50,115.63 L120.75,115.60 L121.00,115.57 L121.25,115.54 L121.50,115.51 L121.75,115.48 L122.00,115.45 L122.25,115.42 L122.50,115.39 L122.75,115.36 L123.00,115.32 L123.25,115.29 L123.50,115.26 L123.75,115.23 L124.00,115.20 L124.25,115.17 L124.50,115.13 L124.75,115.10 L125.00,115.07 L125.25,115.04 L125.50,115.00 L125.75,114.97 L126.00,114.93 L126.25,114.90 L126.50,114.87 L126.75,114.83 L127.00,114.80 L127.25,114.76 L127.50,114.73 L127.75,114.70 L128.00,114.66 L128.25,114.63 L128.50,114.59 L128.75,114.56 L129.00,114.53 L129.25,114.49 L129.50,114.46 L129.75,114.43 L130.00,114.40 L130.25,114.36 L130.50,114.33 L130.75,114.30 L131.00,114.27 L131.25,114.23 L131.50,114.20 L131.75,114.17 L132.00,114.14 L132.25,114.11 L132.50,114.07 L132.75,114.04 L133.00,114.01 L133.25,113.98 L133.50,113.94 L133.75,113.91 L134.00,113.88 L134.25,113.84 L134.50,113.81 L134.75,113.78 L135.00,113.74 L135.25,113.71 L135.50,113.67 L135.75,113.64 L136.00,113.60 L136.25,113.56 L136.50,113.53 L136.75,113.49 L137.00,113.45 L137.25,113.41 L137.50,113.37 L137.75,113.34 L138.00,113.30 L138.25,113.26 L138.50,113.22 L138.75,113.18 L139.00,113.14 L139.25,113.10 L139.50,113.06 L139.75,113.03 L140.00,112.99 L140.25,112.95 L140.50,112.91 L140.75,112.88 L141.00,112.84 L141.25,112.81 L141.50,112.77 L141.75,112.74 L142.00,112.70 L142.25,112.67 L142.50,112.63 L142.75,112.60 L143.00,112.57 L143.25,112.53 L143.50,112.50 L143.75,112.47 L144.00,112.43 L144.25,112.40 L144.50,112.37 L144.75,112.34 L145.00,112.30 L145.25,112.27 L145.50,112.24 L145.75,112.21 L146.00,112.18 L146.25,112.14 L146.50,112.11 L146.75,112.08 L147.00,112.05 L147.25,112.02 L147.50,111.99 L147.75,111.96 L148.00,111.93 L148.25,111.90 L148.50,111.87 L148.75,111.83 L149.00,111.80 L149.25,111.77 L149.50,111.74 L149.75,111.71 L150.00,111.68 L150.25,111.66 L150.50,111.63 L150.75,111.60 L151.00,111.57 L151.25,111.54 L151.50,111.51 L151.75,111.48 L152.00,111.45 L152.25,111.43 L152.50,111.40 L152.75,111.37 L153.00,111.34 L153.25,111.32 L153.50,111.29 L153.75,111.26 L154.00,111.24 L154.25,111.21 L154.50,111.18 L154.75,111.16 L155.00,111.13 L155.25,111.10 L155.50,111.08 L155.75,111.05 L156.00,111.03 L156.25,111.00 L156.50,110.97 L156.75,110.95 L157.00,110.92 L157.25,110.90 L157.50,110.88 L157.75,110.85 L158.00,110.83 L158.25,110.81 L158.50,110.78 L158.75,110.76 L159.00,110.74 L159.25,110.72 L159.50,110.70 L159.75,110.68 L160.00,110.66 L160.25,110.64 L160.50,110.62 L160.75,110.60 L161.00,110.59 L161.25,110.57 L161.50,110.55 L161.75,110.53 L162.00,110.51 L162.25,110.50 L162.50,110.48 L162.75,110.46 L163.00,110.45 L163.25,110.43 L163.50,110.42 L163.75,110.40 L164.00,110.38 L164.25,110.37 L164.50,110.36 L164.75,110.34 L165.00,110.33 L165.25,110.31 L165.50,110.30 L165.75,110.29 L166.00,110.27 L166.25,110.26 L166.50,110.25 L166.75,110.23 L167.00,110.22 L167.25,110.21 L167.50,110.19 L167.75,110.18 L168.00,110.17 L168.25,110.16 L168.50,110.15 L168.75,110.14 L169.00,110.13 L169.25,110.12 L169.50,110.11 L169.75,110.11 L170.00,110.10 L170.25,110.10 L170.50,110.09 L170.75,110.09 L171.00,110.08 L171.25,110.08 L171.50,110.07 L171.75,110.07 L172.00,110.06 L172.25,110.06 L172.50,110.05 L172.75,110.05 L173.00,110.05 L173.25,110.04 L173.50,110.04 L173.75,110.04 L174.00,110.03 L174.25,110.03 L174.50,110.03 L174.75,110.02 L175.00,110.02 L175.25,110.02 L175.50,110.02 L175.75,110.01 L176.00,110.01 L176.25,110.01 L176.50,110.01 L176.75,110.01 L177.00,110.00 L177.25,110.00 L177.50,110.00 L177.75,110.00 L178.00,110.00 L178.25,110.00 L178.50,110.00 L178.75,110.00 L179.00,110.00 L179.25,110.00 L179.50,110.00 L179.75,110.00 L180.00,110.00 L180.25,110.01 L180.50,110.01 L180.75,110.01 L181.00,110.01 L181.25,110.01 L181.50,110.02 L181.75,110.02 L182.00,110.02 L182.25,110.02 L182.50,110.03 L182.75,110.03 L183.00,110.03 L183.25,110.04 L183.50,110.04 L183.75,110.04 L184.00,110.05 L184.25,110.05 L184.50,110.06 L184.75,110.06 L185.00,110.06 L185.25,110.07 L185.50,110.07 L185.75,110.08 L186.00,110.08 L186.25,110.09 L186.50,110.09 L186.75,110.09 L187.00,110.10 L187.25,110.10 L187.50,110.11 L187.75,110.11 L188.00,110.12 L188.25,110.12 L188.50,110.13 L188.75,110.14 L189.00,110.14 L189.25,110.15 L189.50,110.16 L189.75,110.17 L190.00,110.18 L190.25,110.18 L190.50,110.19 L190.75,110.20 L191.00,110.21 L191.25,110.22 L191.50,110.23 L191.75,110.24 L192.00,110.25 L192.25,110.26 L192.50,110.27 L192.75,110.28 L193.00,110.29 L193.25,110.30 L193.50,110.31 L193.75,110.32 L194.00,110.33 L194.25,110.34 L194.50,110.35 L194.75,110.36 L195.00,110.37 L195.25,110.38 L195.50,110.39 L195.75,110.40 L196.00,110.41 L196.25,110.42 L196.50,110.43 L196.75,110.44 L197.00,110.45 L197.25,110.46 L197.50,110.47 L197.75,110.49 L198.00,110.50 L198.25,110.51 L198.50,110.52 L198.75,110.53 L199.00,110.54 L199.25,110.55 L199.50,110.56 L199.75,110.58 L200.00,110.59 L200.25,110.60 L200.50,110.61 L200.75,110.62 L201.00,110.63 L201.25,110.65 L201.50,110.66 L201.75,110.67 L202.00,110.68 L202.25,110.70 L202.50,110.71 L202.75,110.72 L203.00,110.73 L203.25,110.75 L203.50,110.76 L203.75,110.77 L204.00,110.78 L204.25,110.80 L204.50,110.81 L204.75,110.82 L205.00,110.84 L205.25,110.85 L205.50,110.86 L205.75,110.88 L206.00,110.89 L206.25,110.90 L206.50,110.92 L206.75,110.93 L207.00,110.94 L207.25,110.96 L207.50,110.97 L207.75,110.98 L208.00,111.00 L208.25,111.01 L208.50,111.03 L208.75,111.04 L209.00,111.06 L209.25,111.07 L209.50,111.08 L209.75,111.10 L210.00,111.11 L210.25,111.13 L210.50,111.14 L210.75,111.16 L211.00,111.18 L211.25,111.19 L211.50,111.21 L211.75,111.22 L212.00,111.24 L212.25,111.26 L212.50,111.27 L212.75,111.29 L213.00,111.31 L213.25,111.32 L213.50,111.34 L213.75,111.36 L214.00,111.38 L214.25,111.40 L214.50,111.42 L214.75,111.44 L215.00,111.46 L215.25,111.48 L215.50,111.50 L215.75,111.52 L216.00,111.54 L216.25,111.56 L216.50,111.58 L216.75,111.60 L217.00,111.62 L217.25,111.64 L217.50,111.67 L217.75,111.69 L218.00,111.71 L218.25,111.73 L218.50,111.75 L218.75,111.77 L219.00,111.80 L219.25,111.82 L219.50,111.84 L219.75,111.86 L220.00,111.88 L220.25,111.90 L220.50,111.93 L220.75,111.95 L221.00,111.97 L221.25,111.99 L221.50,112.01 L221.75,112.03 L222.00,112.05 L222.25,112.07 L222.50,112.09 L222.75,112.11 L223.00,112.13 L223.25,112.15 L223.50,112.17 L223.75,112.19 L224.00,112.21 L224.25,112.23 L224.50,112.26 L224.75,112.28 L225.00,112.30 L225.25,112.32 L225.50,112.34 L225.75,112.36 L226.00,112.38 L226.25,112.40 L226.50,112.42 L226.75,112.44 L227.00,112.46 L227.25,112.48 L227.50,112.50 L227.75,112.52 L228.00,112.54 L228.25,112.56 L228.50,112.58 L228.75,112.60 L229.00,112.62 L229.25,112.64 L229.50,112.66 L229.75,112.68 L230.00,112.70 L230.25,112.72 L230.50,112.74 L230.75,112.76 L231.00,112.78 L231.25,112.80 L231.50,112.82 L231.75,112.84 L232.00,112.85 L232.25,112.87 L232.50,112.89 L232.75,112.91 L233.00,112.93 L233.25,112.95 L233.50,112.97 L233.75,112.99 L234.00,113.01 L234.25,113.02 L234.50,113.04 L234.75,113.06 L235.00,113.08 L235.25,113.10 L235.50,113.12 L235.75,113.14 L236.00,113.16 L236.25,113.17 L236.50,113.19 L236.75,113.21 L237.00,113.23 L237.25,113.25 L237.50,113.27 L237.75,113.28 L238.00,113.30 L238.25,113.32 L238.50,113.34 L238.75,113.36 L239.00,113.38 L239.25,113.39 L239.50,113.41 L239.75,113.43 L240.00,113.45 L240.25,113.47 L240.50,113.48 L240.75,113.50 L241.00,113.52 L241.25,113.54 L241.50,113.56 L241.75,113.57 L242.00,113.59 L242.25,113.61 L242.50,113.63 L242.75,113.65 L243.00,113.67 L243.25,113.68 L243.50,113.70 L243.75,113.72 L244.00,113.74 L244.25,113.76 L244.50,113.77 L244.75,113.79 L245.00,113.81 L245.25,113.83 L245.50,113.85 L245.75,113.87 L246.00,113.88 L246.25,113.90 L246.50,113.92 L246.75,113.94 L247.00,113.96 L247.25,113.98 L247.50,113.99 L247.75,114.01 L248.00,114.03 L248.25,114.05 L248.50,114.07 L248.75,114.09 L249.00,114.10 L249.25,114.12 L249.50,114.14 L249.75,114.16 L250.00,114.18 L250.25,114.19 L250.50,114.21 L250.75,114.23 L251.00,114.25 L251.25,114.27 L251.50,114.28 L251.75,114.30 L252.00,114.32 L252.25,114.34 L252.50,114.35 L252.75,114.37 L253.00,114.39 L253.25,114.41 L253.50,114.42 L253.75,114.44 L254.00,114.46 L254.25,114.47 L254.50,114.49 L254.75,114.51 L255.00,114.53 L255.25,114.54 L255.50,114.56 L255.75,114.58 L256.00,114.59 L256.25,114.61 L256.50,114.62 L256.75,114.64 L257.00,114.66 L257.25,114.67 L257.50,114.69 L257.75,114.70 L258.00,114.72 L258.25,114.74 L258.50,114.75 L258.75,114.77 L259.00,114.78 L259.25,114.80 L259.50,114.81 L259.75,114.83 L260.00,114.84 L260.25,114.86 L260.50,114.87 L260.75,114.89 L261.00,114.90 L261.25,114.91 L261.50,114.93 L261.75,114.94 L262.00,114.96 L262.25,114.97 L262.50,114.98 L262.75,115.00 L263.00,115.01 L263.25,115.03 L263.50,115.04 L263.75,115.05 L264.00,115.07 L264.25,115.08 L264.50,115.09 L264.75,115.11 L265.00,115.12 L265.25,115.13 L265.50,115.15 L265.75,115.16 L266.00,115.17 L266.25,115.19 L266.50,115.20 L266.75,115.21 L267.00,115.23 L267.25,115.24 L267.50,115.25 L267.75,115.26 L268.00,115.28 L268.25,115.29 L268.50,115.30 L268.75,115.31 L269.00,115.33 L269.25,115.34 L269.50,115.35 L269.75,115.37 L270.00,115.38 L270.25,115.39 L270.50,115.40 L270.75,115.42 L271.00,115.43 L271.25,115.44 L271.50,115.45 L271.75,115.47 L272.00,115.48 L272.25,115.49 L272.50,115.50 L272.75,115.52 L273.00,115.53 L273.25,115.54 L273.50,115.55 L273.75,115.57 L274.00,115.58 L274.25,115.59 L274.50,115.60 L274.75,115.62 L275.00,115.63 L275.25,115.64 L275.50,115.65 L275.75,115.67 L276.00,115.68 L276.25,115.69 L276.50,115.71 L276.75,115.72 L277.00,115.73 L277.25,115.74 L277.50,115.76 L277.75,115.77 L278.00,115.78 L278.25,115.79 L278.50,115.81 L278.75,115.82 L279.00,115.83 L279.25,115.85 L279.50,115.86 L279.75,115.87 L280.00,115.88 L280.25,115.90 L280.50,115.91 L280.75,115.92 L281.00,115.93 L281.25,115.95 L281.50,115.96 L281.75,115.97 L282.00,115.98 L282.25,115.99 L282.50,116.00 L282.75,116.02 L283.00,116.03 L283.25,116.04 L283.50,116.05 L283.75,116.06 L284.00,116.07 L284.25,116.09 L284.50,116.10 L284.75,116.11 L285.00,116.12 L285.25,116.13 L285.50,116.14 L285.75,116.15 L286.00,116.17 L286.25,116.18 L286.50,116.19 L286.75,116.20 L287.00,116.21 L287.25,116.22 L287.50,116.23 L287.75,116.24 L288.00,116.26 L288.25,116.27 L288.50,116.28 L288.75,116.29 L289.00,116.30 L289.25,116.31 L289.50,116.32 L289.75,116.33 L290.00,116.34 L290.25,116.35 L290.50,116.36 L290.75,116.38 L291.00,116.39 L291.25,116.40 L291.50,116.41 L291.75,116.42 L292.00,116.43 L292.25,116.44 L292.50,116.45 L292.75,116.46 L293.00,116.47 L293.25,116.48 L293.50,116.49 L293.75,116.50 L294.00,116.51 L294.25,116.52 L294.50,116.53 L294.75,116.54 L295.00,116.55 L295.25,116.56 L295.50,116.57 L295.75,116.58 L296.00,116.59 L296.25,116.60 L296.50,116.61 L296.75,116.62 L297.00,116.63 L297.25,116.64 L297.50,116.65 L297.75,116.66 L298.00,116.67 L298.25,116.68 L298.50,116.69 L298.75,116.70"/>
</g>
<text x="38.50" y="138.6" text-anchor="middle" class="tk">350</text>
<text x="103.59" y="138.6" text-anchor="middle" class="tk">400</text>
<text x="168.68" y="138.6" text-anchor="middle" class="tk">450</text>
<text x="233.76" y="138.6" text-anchor="middle" class="tk">500</text>
<text x="298.85" y="138.6" text-anchor="middle" class="tk">550</text>
<text x="34.6" y="127.90" text-anchor="end" class="tk">0</text>
<text x="34.6" y="98.01" text-anchor="end" class="tk">0.05</text>
<text x="34.6" y="68.12" text-anchor="end" class="tk">0.1</text>
<text x="34.6" y="38.24" text-anchor="end" class="tk">0.15</text>
<text x="34.6" y="8.35" text-anchor="end" class="tk">0.2</text>
<rect x="38.5" y="162.0" width="262.90" height="99.90" fill="#fff" stroke="#868686" stroke-width="1"/>
<path d="M38.50,261.9v-2.7M38.50,162.0v2.7M104.22,261.9v-2.7M104.22,162.0v2.7M169.95,261.9v-2.7M169.95,162.0v2.7M235.67,261.9v-2.7M235.67,162.0v2.7M301.40,261.9v-2.7M301.40,162.0v2.7M38.5,261.90h2.7M301.4,261.90h-2.7M38.5,211.95h2.7M301.4,211.95h-2.7M38.5,162.00h2.7M301.4,162.00h-2.7" stroke="#868686" stroke-width="1" fill="none"/>
<clipPath id="cb"><rect x="38" y="161" width="264" height="101.8"/></clipPath><g clip-path="url(#cb)">
<path class="cv" stroke="#0072BD" d="M71.50,261.77 L72.00,261.73 L72.50,261.66 L73.00,261.57 L73.50,261.45 L74.00,261.30 L74.50,261.10 L75.00,260.86 L75.50,260.55 L76.00,260.19 L76.50,259.77 L77.00,259.29 L77.50,258.77 L78.00,258.22 L78.50,257.64 L79.00,257.04 L79.50,256.43 L80.00,255.82 L80.50,255.21 L81.00,254.59 L81.50,253.97 L82.00,253.34 L82.50,252.70 L83.00,252.06 L83.50,251.39 L84.00,250.71 L84.50,250.00 L85.00,249.28 L85.50,248.53 L86.00,247.75 L86.50,246.94 L87.00,246.10 L87.50,245.23 L88.00,244.33 L88.50,243.39 L89.00,242.42 L89.50,241.42 L90.00,240.38 L90.50,239.31 L91.00,238.20 L91.50,237.06 L92.00,235.89 L92.50,234.68 L93.00,233.44 L93.50,232.18 L94.00,230.88 L94.50,229.56 L95.00,228.21 L95.50,226.83 L96.00,225.44 L96.50,224.02 L97.00,222.58 L97.50,221.13 L98.00,219.67 L98.50,218.19 L99.00,216.71 L99.50,215.22 L100.00,213.73 L100.50,212.24 L101.00,210.75 L101.50,209.26 L102.00,207.79 L102.50,206.32 L103.00,204.86 L103.50,203.42 L104.00,202.00 L104.50,200.60 L105.00,199.22 L105.50,197.86 L106.00,196.52 L106.50,195.22 L107.00,193.94 L107.50,192.68 L108.00,191.46 L108.50,190.27 L109.00,189.11 L109.50,187.99 L110.00,186.90 L110.50,185.84 L111.00,184.81 L111.50,183.82 L112.00,182.86 L112.50,181.93 L113.00,181.03 L113.50,180.17 L114.00,179.34 L114.50,178.55 L115.00,177.78 L115.50,177.04 L116.00,176.34 L116.50,175.66 L117.00,175.01 L117.50,174.39 L118.00,173.80 L118.50,173.23 L119.00,172.68 L119.50,172.16 L120.00,171.67 L120.50,171.19 L121.00,170.74 L121.50,170.31 L122.00,169.90 L122.50,169.51 L123.00,169.14 L123.50,168.78 L124.00,168.44 L124.50,168.12 L125.00,167.82 L125.50,167.53 L126.00,167.25 L126.50,166.99 L127.00,166.74 L127.50,166.50 L128.00,166.27 L128.50,166.06 L129.00,165.85 L129.50,165.66 L130.00,165.47 L130.50,165.30 L131.00,165.13 L131.50,164.98 L132.00,164.83 L132.50,164.68 L133.00,164.55 L133.50,164.42 L134.00,164.30 L134.50,164.18 L135.00,164.07 L135.50,163.97 L136.00,163.87 L136.50,163.78 L137.00,163.69 L137.50,163.60 L138.00,163.52 L138.50,163.45 L139.00,163.38 L139.50,163.31 L140.00,163.24 L140.50,163.18 L141.00,163.12 L141.50,163.07 L142.00,163.01 L142.50,162.96 L143.00,162.92 L143.50,162.87 L144.00,162.83 L144.50,162.79 L145.00,162.75 L145.50,162.71 L146.00,162.68 L146.50,162.64 L147.00,162.61 L147.50,162.58 L148.00,162.55 L148.50,162.53 L149.00,162.50 L149.50,162.48 L150.00,162.45 L150.50,162.43 L151.00,162.41 L151.50,162.39 L152.00,162.37 L152.50,162.35 L153.00,162.34 L153.50,162.32 L154.00,162.31 L154.50,162.29 L155.00,162.28 L155.50,162.26 L156.00,162.25 L156.50,162.24 L157.00,162.23 L157.50,162.22 L158.00,162.21 L158.50,162.20 L159.00,162.19 L159.50,162.18 L160.00,162.17 L160.50,162.16 L161.00,162.16 L161.50,162.15 L162.00,162.14 L162.50,162.13 L163.00,162.13 L163.50,162.12 L164.00,162.12 L164.50,162.11 L165.00,162.11 L165.50,162.10 L166.00,162.10 L166.50,162.09 L167.00,162.09 L167.50,162.08 L168.00,162.08 L168.50,162.08 L169.00,162.07 L169.50,162.07 L170.00,162.07 L170.50,162.06 L171.00,162.06 L171.50,162.06 L172.00,162.06 L172.50,162.05 L173.00,162.05 L173.50,162.05 L174.00,162.05 L174.50,162.04 L175.00,162.04 L175.50,162.04 L176.00,162.04 L176.50,162.04 L177.00,162.03 L177.50,162.03 L178.00,162.03 L178.50,162.03 L179.00,162.03 L179.50,162.03 L180.00,162.03 L180.50,162.03 L181.00,162.02 L181.50,162.02 L182.00,162.02 L182.50,162.02 L183.00,162.02 L183.50,162.02 L184.00,162.02 L184.50,162.02 L185.00,162.02 L185.50,162.02 L186.00,162.02 L186.50,162.01 L187.00,162.01 L187.50,162.01 L188.00,162.01 L188.50,162.01 L189.00,162.01 L189.50,162.01 L190.00,162.01 L190.50,162.01 L191.00,162.01 L191.50,162.01 L192.00,162.01 L192.50,162.01 L193.00,162.01 L193.50,162.01 L194.00,162.01 L194.50,162.01 L195.00,162.01 L195.50,162.01 L196.00,162.01 L196.50,162.01 L197.00,162.01 L197.50,162.01 L198.00,162.01 L198.50,162.01 L199.00,162.01 L199.50,162.00 L200.00,162.00 L200.50,162.00 L201.00,162.00 L201.50,162.00 L202.00,162.00 L202.50,162.00 L203.00,162.00 L203.50,162.00 L204.00,162.00 L204.50,162.00 L205.00,162.00 L205.50,162.00 L206.00,162.00 L206.50,162.00 L207.00,162.00"/>
<path class="cv" stroke="#D95319" d="M71.50,261.81 L72.00,261.79 L72.50,261.75 L73.00,261.71 L73.50,261.66 L74.00,261.60 L74.50,261.52 L75.00,261.42 L75.50,261.30 L76.00,261.17 L76.50,261.00 L77.00,260.82 L77.50,260.60 L78.00,260.37 L78.50,260.11 L79.00,259.82 L79.50,259.53 L80.00,259.21 L80.50,258.89 L81.00,258.56 L81.50,258.23 L82.00,257.89 L82.50,257.55 L83.00,257.21 L83.50,256.86 L84.00,256.52 L84.50,256.17 L85.00,255.82 L85.50,255.46 L86.00,255.10 L86.50,254.74 L87.00,254.36 L87.50,253.98 L88.00,253.59 L88.50,253.18 L89.00,252.77 L89.50,252.34 L90.00,251.90 L90.50,251.45 L91.00,250.98 L91.50,250.50 L92.00,250.00 L92.50,249.48 L93.00,248.95 L93.50,248.41 L94.00,247.84 L94.50,247.26 L95.00,246.66 L95.50,246.04 L96.00,245.41 L96.50,244.75 L97.00,244.08 L97.50,243.38 L98.00,242.67 L98.50,241.94 L99.00,241.19 L99.50,240.43 L100.00,239.64 L100.50,238.83 L101.00,238.01 L101.50,237.17 L102.00,236.31 L102.50,235.43 L103.00,234.53 L103.50,233.62 L104.00,232.70 L104.50,231.75 L105.00,230.79 L105.50,229.82 L106.00,228.83 L106.50,227.83 L107.00,226.82 L107.50,225.79 L108.00,224.76 L108.50,223.71 L109.00,222.66 L109.50,221.59 L110.00,220.52 L110.50,219.45 L111.00,218.37 L111.50,217.28 L112.00,216.19 L112.50,215.10 L113.00,214.01 L113.50,212.92 L114.00,211.83 L114.50,210.74 L115.00,209.66 L115.50,208.58 L116.00,207.50 L116.50,206.43 L117.00,205.37 L117.50,204.32 L118.00,203.27 L118.50,202.24 L119.00,201.21 L119.50,200.20 L120.00,199.19 L120.50,198.20 L121.00,197.23 L121.50,196.27 L122.00,195.32 L122.50,194.39 L123.00,193.47 L123.50,192.57 L124.00,191.68 L124.50,190.82 L125.00,189.96 L125.50,189.13 L126.00,188.31 L126.50,187.51 L127.00,186.73 L127.50,185.96 L128.00,185.22 L128.50,184.49 L129.00,183.78 L129.50,183.08 L130.00,182.41 L130.50,181.75 L131.00,181.11 L131.50,180.48 L132.00,179.87 L132.50,179.28 L133.00,178.71 L133.50,178.15 L134.00,177.61 L134.50,177.08 L135.00,176.57 L135.50,176.08 L136.00,175.60 L136.50,175.13 L137.00,174.68 L137.50,174.25 L138.00,173.82 L138.50,173.41 L139.00,173.02 L139.50,172.63 L140.00,172.26 L140.50,171.90 L141.00,171.55 L141.50,171.22 L142.00,170.89 L142.50,170.58 L143.00,170.28 L143.50,169.98 L144.00,169.70 L144.50,169.43 L145.00,169.16 L145.50,168.91 L146.00,168.66 L146.50,168.43 L147.00,168.20 L147.50,167.98 L148.00,167.76 L148.50,167.56 L149.00,167.36 L149.50,167.17 L150.00,166.98 L150.50,166.81 L151.00,166.63 L151.50,166.47 L152.00,166.31 L152.50,166.15 L153.00,166.01 L153.50,165.86 L154.00,165.73 L154.50,165.59 L155.00,165.46 L155.50,165.34 L156.00,165.22 L156.50,165.11 L157.00,165.00 L157.50,164.89 L158.00,164.79 L158.50,164.69 L159.00,164.59 L159.50,164.50 L160.00,164.41 L160.50,164.33 L161.00,164.24 L161.50,164.16 L162.00,164.09 L162.50,164.01 L163.00,163.94 L163.50,163.87 L164.00,163.81 L164.50,163.74 L165.00,163.68 L165.50,163.62 L166.00,163.57 L166.50,163.51 L167.00,163.46 L167.50,163.41 L168.00,163.36 L168.50,163.31 L169.00,163.27 L169.50,163.22 L170.00,163.18 L170.50,163.14 L171.00,163.10 L171.50,163.06 L172.00,163.03 L172.50,162.99 L173.00,162.96 L173.50,162.92 L174.00,162.89 L174.50,162.86 L175.00,162.83 L175.50,162.80 L176.00,162.77 L176.50,162.75 L177.00,162.72 L177.50,162.70 L178.00,162.67 L178.50,162.65 L179.00,162.63 L179.50,162.61 L180.00,162.59 L180.50,162.57 L181.00,162.55 L181.50,162.53 L182.00,162.51 L182.50,162.50 L183.00,162.48 L183.50,162.46 L184.00,162.45 L184.50,162.43 L185.00,162.42 L185.50,162.40 L186.00,162.39 L186.50,162.38 L187.00,162.37 L187.50,162.35 L188.00,162.34 L188.50,162.33 L189.00,162.32 L189.50,162.31 L190.00,162.30 L190.50,162.29 L191.00,162.28 L191.50,162.27 L192.00,162.26 L192.50,162.25 L193.00,162.24 L193.50,162.24 L194.00,162.23 L194.50,162.22 L195.00,162.21 L195.50,162.21 L196.00,162.20 L196.50,162.19 L197.00,162.19 L197.50,162.18 L198.00,162.18 L198.50,162.17 L199.00,162.17 L199.50,162.16 L200.00,162.15 L200.50,162.15 L201.00,162.15 L201.50,162.14 L202.00,162.14 L202.50,162.13 L203.00,162.13 L203.50,162.12 L204.00,162.12 L204.50,162.12 L205.00,162.11 L205.50,162.11 L206.00,162.11 L206.50,162.10 L207.00,162.10 L207.50,162.10 L208.00,162.09 L208.50,162.09 L209.00,162.09 L209.50,162.08 L210.00,162.08 L210.50,162.08 L211.00,162.08 L211.50,162.07 L212.00,162.07 L212.50,162.07 L213.00,162.07 L213.50,162.07 L214.00,162.06 L214.50,162.06 L215.00,162.06 L215.50,162.06 L216.00,162.06 L216.50,162.05 L217.00,162.05 L217.50,162.05 L218.00,162.05 L218.50,162.05 L219.00,162.05 L219.50,162.05 L220.00,162.04 L220.50,162.04 L221.00,162.04 L221.50,162.04 L222.00,162.04 L222.50,162.04 L223.00,162.04 L223.50,162.04 L224.00,162.03 L224.50,162.03 L225.00,162.03 L225.50,162.03 L226.00,162.03 L226.50,162.03 L227.00,162.03 L227.50,162.03 L228.00,162.03 L228.50,162.03 L229.00,162.03 L229.50,162.03 L230.00,162.02 L230.50,162.02 L231.00,162.02 L231.50,162.02 L232.00,162.02 L232.50,162.02 L233.00,162.02 L233.50,162.02 L234.00,162.02 L234.50,162.02 L235.00,162.02 L235.50,162.02 L236.00,162.02 L236.50,162.02 L237.00,162.02 L237.50,162.02 L238.00,162.02 L238.50,162.01 L239.00,162.01 L239.50,162.01 L240.00,162.01 L240.50,162.01 L241.00,162.01 L241.50,162.01 L242.00,162.01 L242.50,162.01 L243.00,162.01 L243.50,162.01 L244.00,162.01 L244.50,162.01 L245.00,162.01 L245.50,162.01 L246.00,162.01 L246.50,162.01 L247.00,162.01 L247.50,162.01 L248.00,162.01 L248.50,162.01 L249.00,162.01 L249.50,162.01 L250.00,162.01 L250.50,162.01 L251.00,162.01 L251.50,162.01 L252.00,162.01"/>
<path class="cv" stroke="#EDB120" d="M71.50,261.84 L72.00,261.83 L72.50,261.81 L73.00,261.79 L73.50,261.76 L74.00,261.73 L74.50,261.70 L75.00,261.65 L75.50,261.60 L76.00,261.54 L76.50,261.47 L77.00,261.39 L77.50,261.30 L78.00,261.20 L78.50,261.08 L79.00,260.96 L79.50,260.82 L80.00,260.67 L80.50,260.51 L81.00,260.34 L81.50,260.16 L82.00,259.98 L82.50,259.79 L83.00,259.60 L83.50,259.41 L84.00,259.21 L84.50,259.01 L85.00,258.81 L85.50,258.61 L86.00,258.41 L86.50,258.21 L87.00,258.00 L87.50,257.80 L88.00,257.59 L88.50,257.38 L89.00,257.17 L89.50,256.95 L90.00,256.73 L90.50,256.51 L91.00,256.28 L91.50,256.04 L92.00,255.80 L92.50,255.56 L93.00,255.31 L93.50,255.05 L94.00,254.78 L94.50,254.51 L95.00,254.23 L95.50,253.95 L96.00,253.65 L96.50,253.35 L97.00,253.04 L97.50,252.72 L98.00,252.39 L98.50,252.05 L99.00,251.70 L99.50,251.34 L100.00,250.97 L100.50,250.60 L101.00,250.21 L101.50,249.81 L102.00,249.40 L102.50,248.98 L103.00,248.55 L103.50,248.11 L104.00,247.65 L104.50,247.19 L105.00,246.71 L105.50,246.23 L106.00,245.73 L106.50,245.22 L107.00,244.69 L107.50,244.16 L108.00,243.61 L108.50,243.05 L109.00,242.48 L109.50,241.90 L110.00,241.31 L110.50,240.70 L111.00,240.09 L111.50,239.46 L112.00,238.82 L112.50,238.17 L113.00,237.50 L113.50,236.83 L114.00,236.15 L114.50,235.45 L115.00,234.74 L115.50,234.03 L116.00,233.30 L116.50,232.56 L117.00,231.82 L117.50,231.06 L118.00,230.30 L118.50,229.52 L119.00,228.74 L119.50,227.95 L120.00,227.16 L120.50,226.35 L121.00,225.54 L121.50,224.73 L122.00,223.90 L122.50,223.08 L123.00,222.24 L123.50,221.41 L124.00,220.56 L124.50,219.72 L125.00,218.87 L125.50,218.02 L126.00,217.17 L126.50,216.32 L127.00,215.46 L127.50,214.60 L128.00,213.75 L128.50,212.89 L129.00,212.04 L129.50,211.19 L130.00,210.34 L130.50,209.49 L131.00,208.64 L131.50,207.80 L132.00,206.96 L132.50,206.13 L133.00,205.30 L133.50,204.48 L134.00,203.66 L134.50,202.85 L135.00,202.04 L135.50,201.24 L136.00,200.45 L136.50,199.67 L137.00,198.89 L137.50,198.12 L138.00,197.36 L138.50,196.61 L139.00,195.87 L139.50,195.14 L140.00,194.41 L140.50,193.70 L141.00,192.99 L141.50,192.30 L142.00,191.61 L142.50,190.94 L143.00,190.28 L143.50,189.62 L144.00,188.98 L144.50,188.35 L145.00,187.73 L145.50,187.11 L146.00,186.51 L146.50,185.92 L147.00,185.35 L147.50,184.78 L148.00,184.22 L148.50,183.68 L149.00,183.14 L149.50,182.61 L150.00,182.10 L150.50,181.60 L151.00,181.10 L151.50,180.62 L152.00,180.15 L152.50,179.68 L153.00,179.23 L153.50,178.79 L154.00,178.36 L154.50,177.93 L155.00,177.52 L155.50,177.12 L156.00,176.72 L156.50,176.34 L157.00,175.96 L157.50,175.59 L158.00,175.24 L158.50,174.89 L159.00,174.55 L159.50,174.21 L160.00,173.89 L160.50,173.57 L161.00,173.26 L161.50,172.96 L162.00,172.67 L162.50,172.38 L163.00,172.10 L163.50,171.83 L164.00,171.57 L164.50,171.31 L165.00,171.06 L165.50,170.81 L166.00,170.57 L166.50,170.34 L167.00,170.12 L167.50,169.90 L168.00,169.68 L168.50,169.47 L169.00,169.27 L169.50,169.07 L170.00,168.88 L170.50,168.69 L171.00,168.51 L171.50,168.33 L172.00,168.16 L172.50,167.99 L173.00,167.83 L173.50,167.67 L174.00,167.52 L174.50,167.37 L175.00,167.22 L175.50,167.08 L176.00,166.94 L176.50,166.81 L177.00,166.68 L177.50,166.55 L178.00,166.43 L178.50,166.31 L179.00,166.19 L179.50,166.08 L180.00,165.96 L180.50,165.86 L181.00,165.75 L181.50,165.65 L182.00,165.55 L182.50,165.46 L183.00,165.36 L183.50,165.27 L184.00,165.18 L184.50,165.10 L185.00,165.01 L185.50,164.93 L186.00,164.85 L186.50,164.78 L187.00,164.70 L187.50,164.63 L188.00,164.56 L188.50,164.49 L189.00,164.42 L189.50,164.36 L190.00,164.30 L190.50,164.24 L191.00,164.18 L191.50,164.12 L192.00,164.06 L192.50,164.01 L193.00,163.95 L193.50,163.90 L194.00,163.85 L194.50,163.80 L195.00,163.76 L195.50,163.71 L196.00,163.66 L196.50,163.62 L197.00,163.58 L197.50,163.54 L198.00,163.50 L198.50,163.46 L199.00,163.42 L199.50,163.38 L200.00,163.35 L200.50,163.31 L201.00,163.28 L201.50,163.24 L202.00,163.21 L202.50,163.18 L203.00,163.15 L203.50,163.12 L204.00,163.09 L204.50,163.06 L205.00,163.03 L205.50,163.01 L206.00,162.98 L206.50,162.96 L207.00,162.93 L207.50,162.91 L208.00,162.88 L208.50,162.86 L209.00,162.84 L209.50,162.82 L210.00,162.80 L210.50,162.78 L211.00,162.76 L211.50,162.74 L212.00,162.72 L212.50,162.70 L213.00,162.68 L213.50,162.67 L214.00,162.65 L214.50,162.63 L215.00,162.62 L215.50,162.60 L216.00,162.59 L216.50,162.57 L217.00,162.56 L217.50,162.54 L218.00,162.53 L218.50,162.52 L219.00,162.50 L219.50,162.49 L220.00,162.48 L220.50,162.47 L221.00,162.46 L221.50,162.45 L222.00,162.43 L222.50,162.42 L223.00,162.41 L223.50,162.40 L224.00,162.39 L224.50,162.38 L225.00,162.37 L225.50,162.37 L226.00,162.36 L226.50,162.35 L227.00,162.34 L227.50,162.33 L228.00,162.32 L228.50,162.32 L229.00,162.31 L229.50,162.30 L230.00,162.29 L230.50,162.29 L231.00,162.28 L231.50,162.27 L232.00,162.27 L232.50,162.26 L233.00,162.25 L233.50,162.25 L234.00,162.24 L234.50,162.24 L235.00,162.23 L235.50,162.22 L236.00,162.22 L236.50,162.21 L237.00,162.21 L237.50,162.20 L238.00,162.20 L238.50,162.19 L239.00,162.19 L239.50,162.19 L240.00,162.18 L240.50,162.18 L241.00,162.17 L241.50,162.17 L242.00,162.17 L242.50,162.16 L243.00,162.16 L243.50,162.15 L244.00,162.15 L244.50,162.15 L245.00,162.14 L245.50,162.14 L246.00,162.14 L246.50,162.13 L247.00,162.13 L247.50,162.13 L248.00,162.12 L248.50,162.12 L249.00,162.12 L249.50,162.12 L250.00,162.11 L250.50,162.11 L251.00,162.11 L251.50,162.11 L252.00,162.10 L252.50,162.10 L253.00,162.10 L253.50,162.10 L254.00,162.09 L254.50,162.09 L255.00,162.09 L255.50,162.09 L256.00,162.09 L256.50,162.08 L257.00,162.08 L257.50,162.08 L258.00,162.08 L258.50,162.08 L259.00,162.08 L259.50,162.07 L260.00,162.07 L260.50,162.07 L261.00,162.07 L261.50,162.07 L262.00,162.07 L262.50,162.06 L263.00,162.06 L263.50,162.06 L264.00,162.06 L264.50,162.06 L265.00,162.06 L265.50,162.06 L266.00,162.06 L266.50,162.05 L267.00,162.05 L267.50,162.05 L268.00,162.05 L268.50,162.05 L269.00,162.05 L269.50,162.05 L270.00,162.05 L270.50,162.05 L271.00,162.04 L271.50,162.04 L272.00,162.04 L272.50,162.04 L273.00,162.04 L273.50,162.04 L274.00,162.04 L274.50,162.04 L275.00,162.04 L275.50,162.04 L276.00,162.04 L276.50,162.04 L277.00,162.03 L277.50,162.03 L278.00,162.03 L278.50,162.03 L279.00,162.03 L279.50,162.03 L280.00,162.03 L280.50,162.03 L281.00,162.03 L281.50,162.03 L282.00,162.03 L282.50,162.03 L283.00,162.03 L283.50,162.03 L284.00,162.03 L284.50,162.03 L285.00,162.02 L285.50,162.02 L286.00,162.02 L286.50,162.02 L287.00,162.02 L287.50,162.02 L288.00,162.02 L288.50,162.02 L289.00,162.02 L289.50,162.02 L290.00,162.02 L290.50,162.02 L291.00,162.02 L291.50,162.02 L292.00,162.02 L292.50,162.02 L293.00,162.02 L293.50,162.02 L294.00,162.02 L294.50,162.02 L295.00,162.02 L295.50,162.02 L296.00,162.02 L296.50,162.02 L297.00,162.02 L297.50,162.01"/>
<path class="cv" stroke="#7E2F8E" d="M71.50,261.87 L72.00,261.86 L72.50,261.85 L73.00,261.84 L73.50,261.83 L74.00,261.82 L74.50,261.80 L75.00,261.78 L75.50,261.76 L76.00,261.74 L76.50,261.71 L77.00,261.68 L77.50,261.64 L78.00,261.60 L78.50,261.56 L79.00,261.51 L79.50,261.45 L80.00,261.39 L80.50,261.32 L81.00,261.25 L81.50,261.17 L82.00,261.09 L82.50,261.01 L83.00,260.92 L83.50,260.82 L84.00,260.73 L84.50,260.63 L85.00,260.53 L85.50,260.43 L86.00,260.32 L86.50,260.22 L87.00,260.11 L87.50,260.00 L88.00,259.90 L88.50,259.79 L89.00,259.68 L89.50,259.57 L90.00,259.45 L90.50,259.34 L91.00,259.23 L91.50,259.11 L92.00,258.99 L92.50,258.87 L93.00,258.75 L93.50,258.63 L94.00,258.50 L94.50,258.37 L95.00,258.24 L95.50,258.11 L96.00,257.97 L96.50,257.83 L97.00,257.68 L97.50,257.54 L98.00,257.38 L98.50,257.23 L99.00,257.07 L99.50,256.91 L100.00,256.74 L100.50,256.57 L101.00,256.39 L101.50,256.21 L102.00,256.02 L102.50,255.83 L103.00,255.64 L103.50,255.44 L104.00,255.23 L104.50,255.02 L105.00,254.80 L105.50,254.58 L106.00,254.35 L106.50,254.11 L107.00,253.87 L107.50,253.62 L108.00,253.37 L108.50,253.11 L109.00,252.84 L109.50,252.57 L110.00,252.29 L110.50,252.00 L111.00,251.71 L111.50,251.41 L112.00,251.10 L112.50,250.78 L113.00,250.46 L113.50,250.13 L114.00,249.79 L114.50,249.44 L115.00,249.09 L115.50,248.73 L116.00,248.36 L116.50,247.98 L117.00,247.60 L117.50,247.21 L118.00,246.80 L118.50,246.39 L119.00,245.98 L119.50,245.55 L120.00,245.12 L120.50,244.67 L121.00,244.22 L121.50,243.76 L122.00,243.30 L122.50,242.82 L123.00,242.34 L123.50,241.84 L124.00,241.34 L124.50,240.83 L125.00,240.31 L125.50,239.79 L126.00,239.26 L126.50,238.71 L127.00,238.16 L127.50,237.61 L128.00,237.04 L128.50,236.47 L129.00,235.89 L129.50,235.30 L130.00,234.70 L130.50,234.10 L131.00,233.49 L131.50,232.87 L132.00,232.25 L132.50,231.62 L133.00,230.99 L133.50,230.34 L134.00,229.69 L134.50,229.04 L135.00,228.38 L135.50,227.72 L136.00,227.05 L136.50,226.37 L137.00,225.69 L137.50,225.01 L138.00,224.32 L138.50,223.63 L139.00,222.94 L139.50,222.24 L140.00,221.54 L140.50,220.83 L141.00,220.13 L141.50,219.42 L142.00,218.71 L142.50,218.00 L143.00,217.29 L143.50,216.57 L144.00,215.86 L144.50,215.14 L145.00,214.43 L145.50,213.71 L146.00,213.00 L146.50,212.29 L147.00,211.57 L147.50,210.86 L148.00,210.16 L148.50,209.45 L149.00,208.74 L149.50,208.04 L150.00,207.34 L150.50,206.65 L151.00,205.95 L151.50,205.26 L152.00,204.58 L152.50,203.90 L153.00,203.22 L153.50,202.55 L154.00,201.88 L154.50,201.21 L155.00,200.55 L155.50,199.90 L156.00,199.25 L156.50,198.61 L157.00,197.98 L157.50,197.35 L158.00,196.72 L158.50,196.10 L159.00,195.49 L159.50,194.89 L160.00,194.29 L160.50,193.70 L161.00,193.11 L161.50,192.54 L162.00,191.96 L162.50,191.40 L163.00,190.84 L163.50,190.30 L164.00,189.75 L164.50,189.22 L165.00,188.69 L165.50,188.17 L166.00,187.66 L166.50,187.15 L167.00,186.66 L167.50,186.17 L168.00,185.69 L168.50,185.21 L169.00,184.74 L169.50,184.28 L170.00,183.83 L170.50,183.38 L171.00,182.95 L171.50,182.52 L172.00,182.09 L172.50,181.68 L173.00,181.27 L173.50,180.87 L174.00,180.47 L174.50,180.09 L175.00,179.71 L175.50,179.33 L176.00,178.97 L176.50,178.61 L177.00,178.25 L177.50,177.91 L178.00,177.57 L178.50,177.23 L179.00,176.91 L179.50,176.59 L180.00,176.27 L180.50,175.96 L181.00,175.66 L181.50,175.36 L182.00,175.07 L182.50,174.79 L183.00,174.51 L183.50,174.24 L184.00,173.97 L184.50,173.71 L185.00,173.45 L185.50,173.20 L186.00,172.96 L186.50,172.72 L187.00,172.48 L187.50,172.25 L188.00,172.02 L188.50,171.80 L189.00,171.59 L189.50,171.37 L190.00,171.17 L190.50,170.96 L191.00,170.77 L191.50,170.57 L192.00,170.38 L192.50,170.20 L193.00,170.01 L193.50,169.84 L194.00,169.66 L194.50,169.49 L195.00,169.33 L195.50,169.16 L196.00,169.00 L196.50,168.85 L197.00,168.70 L197.50,168.55 L198.00,168.40 L198.50,168.26 L199.00,168.12 L199.50,167.99 L200.00,167.85 L200.50,167.72 L201.00,167.60 L201.50,167.47 L202.00,167.35 L202.50,167.23 L203.00,167.12 L203.50,167.00 L204.00,166.89 L204.50,166.78 L205.00,166.68 L205.50,166.57 L206.00,166.47 L206.50,166.38 L207.00,166.28 L207.50,166.18 L208.00,166.09 L208.50,166.00 L209.00,165.91 L209.50,165.83 L210.00,165.74 L210.50,165.66 L211.00,165.58 L211.50,165.50 L212.00,165.43 L212.50,165.35 L213.00,165.28 L213.50,165.21 L214.00,165.14 L214.50,165.07 L215.00,165.00 L215.50,164.93 L216.00,164.87 L216.50,164.81 L217.00,164.75 L217.50,164.69 L218.00,164.63 L218.50,164.57 L219.00,164.52 L219.50,164.46 L220.00,164.41 L220.50,164.36 L221.00,164.31 L221.50,164.26 L222.00,164.21 L222.50,164.16 L223.00,164.11 L223.50,164.07 L224.00,164.02 L224.50,163.98 L225.00,163.94 L225.50,163.90 L226.00,163.86 L226.50,163.82 L227.00,163.78 L227.50,163.74 L228.00,163.70 L228.50,163.67 L229.00,163.63 L229.50,163.60 L230.00,163.56 L230.50,163.53 L231.00,163.50 L231.50,163.47 L232.00,163.44 L232.50,163.41 L233.00,163.38 L233.50,163.35 L234.00,163.32 L234.50,163.29 L235.00,163.27 L235.50,163.24 L236.00,163.21 L236.50,163.19 L237.00,163.16 L237.50,163.14 L238.00,163.12 L238.50,163.09 L239.00,163.07 L239.50,163.05 L240.00,163.03 L240.50,163.00 L241.00,162.98 L241.50,162.96 L242.00,162.94 L242.50,162.92 L243.00,162.91 L243.50,162.89 L244.00,162.87 L244.50,162.85 L245.00,162.83 L245.50,162.82 L246.00,162.80 L246.50,162.78 L247.00,162.77 L247.50,162.75 L248.00,162.74 L248.50,162.72 L249.00,162.71 L249.50,162.69 L250.00,162.68 L250.50,162.67 L251.00,162.65 L251.50,162.64 L252.00,162.63 L252.50,162.61 L253.00,162.60 L253.50,162.59 L254.00,162.58 L254.50,162.57 L255.00,162.56 L255.50,162.55 L256.00,162.53 L256.50,162.52 L257.00,162.51 L257.50,162.50 L258.00,162.49 L258.50,162.48 L259.00,162.47 L259.50,162.47 L260.00,162.46 L260.50,162.45 L261.00,162.44 L261.50,162.43 L262.00,162.42 L262.50,162.41 L263.00,162.41 L263.50,162.40 L264.00,162.39 L264.50,162.38 L265.00,162.37 L265.50,162.37 L266.00,162.36 L266.50,162.35 L267.00,162.35 L267.50,162.34 L268.00,162.33 L268.50,162.33 L269.00,162.32 L269.50,162.31 L270.00,162.31 L270.50,162.30 L271.00,162.30 L271.50,162.29 L272.00,162.29 L272.50,162.28 L273.00,162.28 L273.50,162.27 L274.00,162.27 L274.50,162.26 L275.00,162.26 L275.50,162.25 L276.00,162.25 L276.50,162.24 L277.00,162.24 L277.50,162.23 L278.00,162.23 L278.50,162.22 L279.00,162.22 L279.50,162.22 L280.00,162.21 L280.50,162.21 L281.00,162.20 L281.50,162.20 L282.00,162.20 L282.50,162.19 L283.00,162.19 L283.50,162.19 L284.00,162.18 L284.50,162.18 L285.00,162.18 L285.50,162.17 L286.00,162.17 L286.50,162.17 L287.00,162.16 L287.50,162.16 L288.00,162.16 L288.50,162.15 L289.00,162.15 L289.50,162.15 L290.00,162.15 L290.50,162.14 L291.00,162.14 L291.50,162.14 L292.00,162.14 L292.50,162.13 L293.00,162.13 L293.50,162.13 L294.00,162.13 L294.50,162.12 L295.00,162.12 L295.50,162.12 L296.00,162.12 L296.50,162.12 L297.00,162.11 L297.50,162.11 L298.00,162.11 L298.50,162.11 L299.00,162.11 L299.50,162.10 L300.00,162.10 L300.50,162.10 L301.00,162.10"/>
<path class="cv" stroke="#77AC30" d="M38.50,261.90 L39.00,261.90 L39.50,261.90 L40.00,261.90 L40.50,261.90 L41.00,261.90 L41.50,261.90 L42.00,261.90 L42.50,261.90 L43.00,261.90 L43.50,261.90 L44.00,261.90 L44.50,261.90 L45.00,261.90 L45.50,261.90 L46.00,261.90 L46.50,261.90 L47.00,261.90 L47.50,261.90 L48.00,261.90 L48.50,261.90 L49.00,261.90 L49.50,261.90 L50.00,261.90 L50.50,261.90 L51.00,261.90 L51.50,261.90 L52.00,261.90 L52.50,261.90 L53.00,261.90 L53.50,261.90 L54.00,261.90 L54.50,261.90 L55.00,261.90 L55.50,261.90 L56.00,261.90 L56.50,261.90 L57.00,261.90 L57.50,261.90 L58.00,261.90 L58.50,261.90 L59.00,261.90 L59.50,261.90 L60.00,261.90 L60.50,261.90 L61.00,261.90 L61.50,261.90 L62.00,261.90 L62.50,261.90 L63.00,261.90 L63.50,261.90 L64.00,261.90 L64.50,261.90 L65.00,261.90 L65.50,261.90 L66.00,261.90 L66.50,261.89 L67.00,261.89 L67.50,261.89 L68.00,261.89 L68.50,261.89 L69.00,261.89 L69.50,261.89 L70.00,261.88 L70.50,261.88 L71.00,261.88 L71.50,261.87 L72.00,261.87 L72.50,261.86 L73.00,261.86 L73.50,261.85 L74.00,261.84 L74.50,261.84 L75.00,261.83 L75.50,261.81 L76.00,261.80 L76.50,261.79 L77.00,261.77 L77.50,261.75 L78.00,261.73 L78.50,261.70 L79.00,261.68 L79.50,261.65 L80.00,261.62 L80.50,261.58 L81.00,261.54 L81.50,261.50 L82.00,261.46 L82.50,261.41 L83.00,261.36 L83.50,261.31 L84.00,261.25 L84.50,261.20 L85.00,261.14 L85.50,261.07 L86.00,261.01 L86.50,260.95 L87.00,260.88 L87.50,260.81 L88.00,260.75 L88.50,260.68 L89.00,260.61 L89.50,260.54 L90.00,260.47 L90.50,260.39 L91.00,260.32 L91.50,260.25 L92.00,260.18 L92.50,260.10 L93.00,260.03 L93.50,259.95 L94.00,259.88 L94.50,259.80 L95.00,259.72 L95.50,259.64 L96.00,259.56 L96.50,259.48 L97.00,259.40 L97.50,259.31 L98.00,259.23 L98.50,259.14 L99.00,259.05 L99.50,258.96 L100.00,258.87 L100.50,258.78 L101.00,258.68 L101.50,258.58 L102.00,258.48 L102.50,258.38 L103.00,258.27 L103.50,258.16 L104.00,258.05 L104.50,257.94 L105.00,257.83 L105.50,257.71 L106.00,257.59 L106.50,257.46 L107.00,257.34 L107.50,257.21 L108.00,257.08 L108.50,256.94 L109.00,256.80 L109.50,256.66 L110.00,256.52 L110.50,256.37 L111.00,256.22 L111.50,256.06 L112.00,255.90 L112.50,255.74 L113.00,255.57 L113.50,255.40 L114.00,255.23 L114.50,255.05 L115.00,254.87 L115.50,254.68 L116.00,254.49 L116.50,254.30 L117.00,254.10 L117.50,253.90 L118.00,253.69 L118.50,253.48 L119.00,253.26 L119.50,253.04 L120.00,252.81 L120.50,252.58 L121.00,252.35 L121.50,252.11 L122.00,251.86 L122.50,251.62 L123.00,251.36 L123.50,251.10 L124.00,250.84 L124.50,250.57 L125.00,250.29 L125.50,250.01 L126.00,249.73 L126.50,249.43 L127.00,249.14 L127.50,248.84 L128.00,248.53 L128.50,248.22 L129.00,247.90 L129.50,247.57 L130.00,247.25 L130.50,246.91 L131.00,246.57 L131.50,246.22 L132.00,245.87 L132.50,245.51 L133.00,245.15 L133.50,244.78 L134.00,244.41 L134.50,244.02 L135.00,243.64 L135.50,243.25 L136.00,242.85 L136.50,242.44 L137.00,242.03 L137.50,241.62 L138.00,241.20 L138.50,240.77 L139.00,240.34 L139.50,239.90 L140.00,239.46 L140.50,239.01 L141.00,238.56 L141.50,238.10 L142.00,237.63 L142.50,237.16 L143.00,236.69 L143.50,236.21 L144.00,235.72 L144.50,235.23 L145.00,234.73 L145.50,234.23 L146.00,233.73 L146.50,233.22 L147.00,232.70 L147.50,232.19 L148.00,231.66 L148.50,231.13 L149.00,230.60 L149.50,230.07 L150.00,229.53 L150.50,228.98 L151.00,228.44 L151.50,227.89 L152.00,227.33 L152.50,226.78 L153.00,226.22 L153.50,225.65 L154.00,225.09 L154.50,224.52 L155.00,223.95 L155.50,223.37 L156.00,222.80 L156.50,222.22 L157.00,221.64 L157.50,221.06 L158.00,220.48 L158.50,219.89 L159.00,219.31 L159.50,218.72 L160.00,218.14 L160.50,217.55 L161.00,216.96 L161.50,216.37 L162.00,215.78 L162.50,215.19 L163.00,214.60 L163.50,214.01 L164.00,213.42 L164.50,212.84 L165.00,212.25 L165.50,211.66 L166.00,211.08 L166.50,210.49 L167.00,209.91 L167.50,209.33 L168.00,208.75 L168.50,208.17 L169.00,207.60 L169.50,207.03 L170.00,206.45 L170.50,205.89 L171.00,205.32 L171.50,204.76 L172.00,204.20 L172.50,203.64 L173.00,203.08 L173.50,202.53 L174.00,201.98 L174.50,201.44 L175.00,200.90 L175.50,200.36 L176.00,199.83 L176.50,199.30 L177.00,198.77 L177.50,198.25 L178.00,197.73 L178.50,197.22 L179.00,196.71 L179.50,196.20 L180.00,195.70 L180.50,195.20 L181.00,194.71 L181.50,194.22 L182.00,193.74 L182.50,193.26 L183.00,192.79 L183.50,192.32 L184.00,191.86 L184.50,191.40 L185.00,190.94 L185.50,190.50 L186.00,190.05 L186.50,189.61 L187.00,189.18 L187.50,188.75 L188.00,188.32 L188.50,187.91 L189.00,187.49 L189.50,187.08 L190.00,186.68 L190.50,186.28 L191.00,185.88 L191.50,185.50 L192.00,185.11 L192.50,184.73 L193.00,184.36 L193.50,183.99 L194.00,183.63 L194.50,183.27 L195.00,182.91 L195.50,182.56 L196.00,182.22 L196.50,181.88 L197.00,181.55 L197.50,181.22 L198.00,180.89 L198.50,180.57 L199.00,180.26 L199.50,179.95 L200.00,179.64 L200.50,179.34 L201.00,179.04 L201.50,178.75 L202.00,178.46 L202.50,178.18 L203.00,177.90 L203.50,177.62 L204.00,177.35 L204.50,177.09 L205.00,176.82 L205.50,176.57 L206.00,176.31 L206.50,176.06 L207.00,175.82 L207.50,175.58 L208.00,175.34 L208.50,175.10 L209.00,174.87 L209.50,174.65 L210.00,174.43 L210.50,174.21 L211.00,173.99 L211.50,173.78 L212.00,173.57 L212.50,173.37 L213.00,173.17 L213.50,172.97 L214.00,172.78 L214.50,172.59 L215.00,172.40 L215.50,172.21 L216.00,172.03 L216.50,171.86 L217.00,171.68 L217.50,171.51 L218.00,171.34 L218.50,171.17 L219.00,171.01 L219.50,170.85 L220.00,170.69 L220.50,170.54 L221.00,170.39 L221.50,170.24 L222.00,170.09 L222.50,169.95 L223.00,169.81 L223.50,169.67 L224.00,169.53 L224.50,169.40 L225.00,169.27 L225.50,169.14 L226.00,169.01 L226.50,168.89 L227.00,168.76 L227.50,168.64 L228.00,168.53 L228.50,168.41 L229.00,168.30 L229.50,168.18 L230.00,168.08 L230.50,167.97 L231.00,167.86 L231.50,167.76 L232.00,167.66 L232.50,167.56 L233.00,167.46 L233.50,167.36 L234.00,167.27 L234.50,167.17 L235.00,167.08 L235.50,166.99 L236.00,166.90 L236.50,166.82 L237.00,166.73 L237.50,166.65 L238.00,166.57 L238.50,166.49 L239.00,166.41 L239.50,166.33 L240.00,166.26 L240.50,166.18 L241.00,166.11 L241.50,166.04 L242.00,165.97 L242.50,165.90 L243.00,165.83 L243.50,165.76 L244.00,165.70 L244.50,165.63 L245.00,165.57 L245.50,165.51 L246.00,165.45 L246.50,165.39 L247.00,165.33 L247.50,165.27 L248.00,165.21 L248.50,165.16 L249.00,165.10 L249.50,165.05 L250.00,165.00 L250.50,164.95 L251.00,164.89 L251.50,164.85 L252.00,164.80 L252.50,164.75 L253.00,164.70 L253.50,164.65 L254.00,164.61 L254.50,164.56 L255.00,164.52 L255.50,164.48 L256.00,164.44 L256.50,164.39 L257.00,164.35 L257.50,164.31 L258.00,164.27 L258.50,164.24 L259.00,164.20 L259.50,164.16 L260.00,164.12 L260.50,164.09 L261.00,164.05 L261.50,164.02 L262.00,163.98 L262.50,163.95 L263.00,163.92 L263.50,163.89 L264.00,163.85 L264.50,163.82 L265.00,163.79 L265.50,163.76 L266.00,163.73 L266.50,163.71 L267.00,163.68 L267.50,163.65 L268.00,163.62 L268.50,163.59 L269.00,163.57 L269.50,163.54 L270.00,163.52 L270.50,163.49 L271.00,163.47 L271.50,163.44 L272.00,163.42 L272.50,163.40 L273.00,163.37 L273.50,163.35 L274.00,163.33 L274.50,163.31 L275.00,163.29 L275.50,163.26 L276.00,163.24 L276.50,163.22 L277.00,163.20 L277.50,163.18 L278.00,163.17 L278.50,163.15 L279.00,163.13 L279.50,163.11 L280.00,163.09 L280.50,163.07 L281.00,163.06 L281.50,163.04 L282.00,163.02 L282.50,163.01 L283.00,162.99 L283.50,162.97 L284.00,162.96 L284.50,162.94 L285.00,162.93 L285.50,162.91 L286.00,162.90 L286.50,162.89 L287.00,162.87 L287.50,162.86 L288.00,162.84 L288.50,162.83 L289.00,162.82 L289.50,162.80 L290.00,162.79 L290.50,162.78 L291.00,162.77 L291.50,162.76 L292.00,162.74 L292.50,162.73 L293.00,162.72 L293.50,162.71 L294.00,162.70 L294.50,162.69 L295.00,162.68 L295.50,162.67 L296.00,162.66 L296.50,162.65 L297.00,162.64 L297.50,162.63 L298.00,162.62 L298.50,162.61 L299.00,162.60 L299.50,162.59 L300.00,162.58 L300.50,162.57 L301.00,162.56"/>
</g>
<text x="38.50" y="277.6" text-anchor="middle" class="tk">350</text>
<text x="104.22" y="277.6" text-anchor="middle" class="tk">400</text>
<text x="169.95" y="277.6" text-anchor="middle" class="tk">450</text>
<text x="235.67" y="277.6" text-anchor="middle" class="tk">500</text>
<text x="301.40" y="277.6" text-anchor="middle" class="tk">550</text>
<text x="34.6" y="266.80" text-anchor="end" class="tk">0</text>
<text x="34.6" y="216.85" text-anchor="end" class="tk">0.5</text>
<text x="34.6" y="166.90" text-anchor="end" class="tk">1</text>
<rect x="38.5" y="300.0" width="263.00" height="99.40" fill="#fff" stroke="#868686" stroke-width="1"/>
<path d="M38.50,399.4v-2.7M38.50,300.0v2.7M104.25,399.4v-2.7M104.25,300.0v2.7M170.00,399.4v-2.7M170.00,300.0v2.7M235.75,399.4v-2.7M235.75,300.0v2.7M301.50,399.4v-2.7M301.50,300.0v2.7M38.5,399.40h2.7M301.5,399.40h-2.7M38.5,349.70h2.7M301.5,349.70h-2.7M38.5,300.00h2.7M301.5,300.00h-2.7" stroke="#868686" stroke-width="1" fill="none"/>
<clipPath id="cc"><rect x="38" y="299" width="264" height="101.3"/></clipPath><g clip-path="url(#cc)">
<path class="cv" stroke="#77AC30" d="M38.50,399.16 L38.60,399.16 L38.70,399.16 L38.80,399.16 L38.90,399.15 L39.00,399.15 L39.10,399.15 L39.20,399.15 L39.30,399.15 L39.40,399.15 L39.50,399.15 L39.60,399.14 L39.70,399.14 L39.80,399.14 L39.90,399.14 L40.00,399.14 L40.10,399.13 L40.20,399.13 L40.30,399.13 L40.40,399.13 L40.50,399.13 L40.60,399.13 L40.70,399.12 L40.80,399.12 L40.90,399.12 L41.00,399.12 L41.10,399.12 L41.20,399.11 L41.30,399.11 L41.40,399.11 L41.50,399.11 L41.60,399.11 L41.70,399.10 L41.80,399.10 L41.90,399.10 L42.00,399.10 L42.10,399.09 L42.20,399.09 L42.30,399.09 L42.40,399.09 L42.50,399.09 L42.60,399.08 L42.70,399.08 L42.80,399.08 L42.90,399.08 L43.00,399.07 L43.10,399.07 L43.20,399.07 L43.30,399.07 L43.40,399.06 L43.50,399.06 L43.60,399.06 L43.70,399.05 L43.80,399.05 L43.90,399.05 L44.00,399.05 L44.10,399.04 L44.20,399.04 L44.30,399.04 L44.40,399.04 L44.50,399.03 L44.60,399.03 L44.70,399.03 L44.80,399.02 L44.90,399.02 L45.00,399.02 L45.10,399.01 L45.20,399.01 L45.30,399.01 L45.40,399.00 L45.50,399.00 L45.60,399.00 L45.70,398.99 L45.80,398.99 L45.90,398.99 L46.00,398.98 L46.10,398.98 L46.20,398.98 L46.30,398.97 L46.40,398.97 L46.50,398.97 L46.60,398.96 L46.70,398.96 L46.80,398.95 L46.90,398.95 L47.00,398.95 L47.10,398.94 L47.20,398.94 L47.30,398.93 L47.40,398.93 L47.50,398.92 L47.60,398.92 L47.70,398.92 L47.80,398.91 L47.90,398.91 L48.00,398.90 L48.10,398.90 L48.20,398.89 L48.30,398.89 L48.40,398.88 L48.50,398.88 L48.60,398.87 L48.70,398.87 L48.80,398.86 L48.90,398.86 L49.00,398.85 L49.10,398.85 L49.20,398.84 L49.30,398.84 L49.40,398.83 L49.50,398.82 L49.60,398.82 L49.70,398.81 L49.80,398.81 L49.90,398.80 L50.00,398.79 L50.10,398.79 L50.20,398.78 L50.30,398.78 L50.40,398.77 L50.50,398.76 L50.60,398.76 L50.70,398.75 L50.80,398.74 L50.90,398.73 L51.00,398.73 L51.10,398.72 L51.20,398.71 L51.30,398.71 L51.40,398.70 L51.50,398.69 L51.60,398.68 L51.70,398.67 L51.80,398.67 L51.90,398.66 L52.00,398.65 L52.10,398.64 L52.20,398.63 L52.30,398.62 L52.40,398.61 L52.50,398.60 L52.60,398.59 L52.70,398.58 L52.80,398.57 L52.90,398.56 L53.00,398.55 L53.10,398.54 L53.20,398.53 L53.30,398.52 L53.40,398.51 L53.50,398.50 L53.60,398.49 L53.70,398.48 L53.80,398.47 L53.90,398.45 L54.00,398.44 L54.10,398.43 L54.20,398.42 L54.30,398.40 L54.40,398.39 L54.50,398.38 L54.60,398.36 L54.70,398.35 L54.80,398.33 L54.90,398.32 L55.00,398.30 L55.10,398.29 L55.20,398.27 L55.30,398.26 L55.40,398.24 L55.50,398.23 L55.60,398.21 L55.70,398.19 L55.80,398.17 L55.90,398.15 L56.00,398.14 L56.10,398.12 L56.20,398.10 L56.30,398.08 L56.40,398.06 L56.50,398.04 L56.60,398.02 L56.70,397.99 L56.80,397.97 L56.90,397.95 L57.00,397.93 L57.10,397.90 L57.20,397.88 L57.30,397.85 L57.40,397.83 L57.50,397.80 L57.60,397.77 L57.70,397.75 L57.80,397.72 L57.90,397.69 L58.00,397.66 L58.10,397.63 L58.20,397.60 L58.30,397.57 L58.40,397.53 L58.50,397.50 L58.60,397.46 L58.70,397.43 L58.80,397.39 L58.90,397.35 L59.00,397.32 L59.10,397.28 L59.20,397.23 L59.30,397.19 L59.40,397.15 L59.50,397.10 L59.60,397.06 L59.70,397.01 L59.80,396.96 L59.90,396.91 L60.00,396.86 L60.10,396.80 L60.20,396.75 L60.30,396.69 L60.40,396.63 L60.50,396.57 L60.60,396.51 L60.70,396.44 L60.80,396.38 L60.90,396.31 L61.00,396.24 L61.10,396.16 L61.20,396.08 L61.30,396.00 L61.40,395.92 L61.50,395.84 L61.60,395.75 L61.70,395.65 L61.80,395.56 L61.90,395.46 L62.00,395.36 L62.10,395.25 L62.20,395.14 L62.30,395.02 L62.40,394.90 L62.50,394.78 L62.60,394.65 L62.70,394.51 L62.80,394.37 L62.90,394.22 L63.00,394.07 L63.10,393.90 L63.20,393.74 L63.30,393.56 L63.40,393.37 L63.50,393.18 L63.60,392.98 L63.70,392.77 L63.80,392.55 L63.90,392.31 L64.00,392.07 L64.10,391.81 L64.20,391.54 L64.30,391.26 L64.40,390.96 L64.50,390.64 L64.60,390.31 L64.70,389.95 L64.80,389.58 L64.90,389.19 L65.00,388.78 L65.10,388.34 L65.20,387.87 L65.30,387.37 L65.40,386.85 L65.50,386.29 L65.60,385.70 L65.70,385.07 L65.80,384.40 L65.90,383.68 L66.00,382.92 L66.10,382.10 L66.20,381.23 L66.30,380.30 L66.40,379.30 L66.50,378.23 L66.60,377.09 L66.70,375.86 L66.80,374.55 L66.90,373.14 L67.00,371.63 L67.10,370.01 L67.20,368.28 L67.30,366.43 L67.40,364.45 L67.50,362.34 L67.60,360.10 L67.70,357.72 L67.80,355.21 L67.90,352.56 L68.00,349.80 L68.10,346.94 L68.20,344.00 L68.30,341.01 L68.40,338.01 L68.50,335.05 L68.60,332.19 L68.70,329.51 L68.80,327.06 L68.90,324.92 L69.00,323.17 L69.10,321.87 L69.20,321.07 L69.30,320.80 L69.40,321.07 L69.50,321.87 L69.60,323.17 L69.70,324.92 L69.80,327.06 L69.90,329.51 L70.00,332.19 L70.10,335.05 L70.20,338.01 L70.30,341.01 L70.40,344.00 L70.50,346.94 L70.60,349.80 L70.70,352.56 L70.80,355.21 L70.90,357.72 L71.00,360.10 L71.10,362.34 L71.20,364.45 L71.30,366.43 L71.40,368.28 L71.50,370.01 L71.60,371.63 L71.70,373.14 L71.80,374.55 L71.90,375.86 L72.00,377.09 L72.10,378.23 L72.20,379.30 L72.30,380.30 L72.40,381.23 L72.50,382.10 L72.60,382.92 L72.70,383.68 L72.80,384.40 L72.90,385.07 L73.00,385.70 L73.10,386.29 L73.20,386.85 L73.30,387.37 L73.40,387.87 L73.50,388.34 L73.60,388.78 L73.70,389.19 L73.80,389.58 L73.90,389.95 L74.00,390.31 L74.10,390.64 L74.20,390.96 L74.30,391.26 L74.40,391.54 L74.50,391.81 L74.60,392.07 L74.70,392.31 L74.80,392.55 L74.90,392.77 L75.00,392.98 L75.10,393.18 L75.20,393.37 L75.30,393.56 L75.40,393.74 L75.50,393.90 L75.60,394.07 L75.70,394.22 L75.80,394.37 L75.90,394.51 L76.00,394.65 L76.10,394.78 L76.20,394.90 L76.30,395.02 L76.40,395.14 L76.50,395.25 L76.60,395.36 L76.70,395.46 L76.80,395.56 L76.90,395.65 L77.00,395.75 L77.10,395.84 L77.20,395.92 L77.30,396.00 L77.40,396.08 L77.50,396.16 L77.60,396.24 L77.70,396.31 L77.80,396.38 L77.90,396.44 L78.00,396.51 L78.10,396.57 L78.20,396.63 L78.30,396.69 L78.40,396.75 L78.50,396.80 L78.60,396.86 L78.70,396.91 L78.80,396.96 L78.90,397.01 L79.00,397.06 L79.10,397.10 L79.20,397.15 L79.30,397.19 L79.40,397.23 L79.50,397.28 L79.60,397.32 L79.70,397.35 L79.80,397.39 L79.90,397.43 L80.00,397.46 L80.10,397.50 L80.20,397.53 L80.30,397.57 L80.40,397.60 L80.50,397.63 L80.60,397.66 L80.70,397.69 L80.80,397.72 L80.90,397.75 L81.00,397.77 L81.10,397.80 L81.20,397.83 L81.30,397.85 L81.40,397.88 L81.50,397.90 L81.60,397.93 L81.70,397.95 L81.80,397.97 L81.90,397.99 L82.00,398.02 L82.10,398.04 L82.20,398.06 L82.30,398.08 L82.40,398.10 L82.50,398.12 L82.60,398.14 L82.70,398.15 L82.80,398.17 L82.90,398.19 L83.00,398.21 L83.10,398.23 L83.20,398.24 L83.30,398.26 L83.40,398.27 L83.50,398.29 L83.60,398.30 L83.70,398.32 L83.80,398.33 L83.90,398.35 L84.00,398.36 L84.10,398.38 L84.20,398.39 L84.30,398.40 L84.40,398.42 L84.50,398.43 L84.60,398.44 L84.70,398.45 L84.80,398.47 L84.90,398.48 L85.00,398.49 L85.10,398.50 L85.20,398.51 L85.30,398.52 L85.40,398.53 L85.50,398.54 L85.60,398.55 L85.70,398.56 L85.80,398.57 L85.90,398.58 L86.00,398.59 L86.10,398.60 L86.20,398.61 L86.30,398.62 L86.40,398.63 L86.50,398.64 L86.60,398.65 L86.70,398.66 L86.80,398.67 L86.90,398.67 L87.00,398.68 L87.10,398.69 L87.20,398.70 L87.30,398.71 L87.40,398.71 L87.50,398.72 L87.60,398.73 L87.70,398.73 L87.80,398.74 L87.90,398.75 L88.00,398.76 L88.10,398.76 L88.20,398.77 L88.30,398.78 L88.40,398.78 L88.50,398.79 L88.60,398.79 L88.70,398.80 L88.80,398.81 L88.90,398.81 L89.00,398.82 L89.10,398.82 L89.20,398.83 L89.30,398.84 L89.40,398.84 L89.50,398.85 L89.60,398.85 L89.70,398.86 L89.80,398.86 L89.90,398.87 L90.00,398.87 L90.10,398.88 L90.20,398.88 L90.30,398.89 L90.40,398.89 L90.50,398.90 L90.60,398.90 L90.70,398.91 L90.80,398.91 L90.90,398.92 L91.00,398.92 L91.10,398.92 L91.20,398.93 L91.30,398.93 L91.40,398.94 L91.50,398.94 L91.60,398.95 L91.70,398.95 L91.80,398.95 L91.90,398.96 L92.00,398.96 L92.10,398.97 L92.20,398.97 L92.30,398.97 L92.40,398.98 L92.50,398.98 L92.60,398.98 L92.70,398.99 L92.80,398.99 L92.90,398.99 L93.00,399.00 L93.10,399.00 L93.20,399.00 L93.30,399.01 L93.40,399.01 L93.50,399.01 L93.60,399.02 L93.70,399.02 L93.80,399.02 L93.90,399.03 L94.00,399.03 L94.10,399.03 L94.20,399.04 L94.30,399.04 L94.40,399.04 L94.50,399.04 L94.60,399.05 L94.70,399.05 L94.80,399.05 L94.90,399.05 L95.00,399.06 L95.10,399.06 L95.20,399.06 L95.30,399.07 L95.40,399.07 L95.50,399.07 L95.60,399.07 L95.70,399.08 L95.80,399.08 L95.90,399.08 L96.00,399.08 L96.10,399.09 L96.20,399.09 L96.30,399.09 L96.40,399.09 L96.50,399.09 L96.60,399.10 L96.70,399.10 L96.80,399.10 L96.90,399.10 L97.00,399.11 L97.10,399.11 L97.20,399.11 L97.30,399.11 L97.40,399.11 L97.50,399.12 L97.60,399.12 L97.70,399.12 L97.80,399.12 L97.90,399.12 L98.00,399.13 L98.10,399.13 L98.20,399.13 L98.30,399.13 L98.40,399.13 L98.50,399.13 L98.60,399.14 L98.70,399.14 L98.80,399.14 L98.90,399.14 L99.00,399.14 L99.10,399.15 L99.20,399.15 L99.30,399.15 L99.40,399.15 L99.50,399.15 L99.60,399.15 L99.70,399.15 L99.80,399.16 L99.90,399.16 L100.00,399.16 L100.10,399.16 L100.20,399.16 L100.30,399.16 L100.40,399.17 L100.50,399.17 L100.60,399.17 L100.70,399.17 L100.80,399.17 L100.90,399.17 L101.00,399.17 L101.10,399.18 L101.20,399.18 L101.30,399.18 L101.40,399.18 L101.50,399.18 L101.60,399.18 L101.70,399.18 L101.80,399.19 L101.90,399.19 L102.00,399.19 L102.10,399.19 L102.20,399.19 L102.30,399.19 L102.40,399.19 L102.50,399.19 L102.60,399.20 L102.70,399.20 L102.80,399.20 L102.90,399.20 L103.00,399.20 L103.10,399.20 L103.20,399.20 L103.30,399.20 L103.40,399.21 L103.50,399.21 L103.60,399.21 L103.70,399.21 L103.80,399.21 L103.90,399.21 L104.00,399.21 L104.10,399.21 L104.20,399.21 L104.30,399.22 L104.40,399.22 L104.50,399.22 L104.60,399.22 L104.70,399.22 L104.80,399.22 L104.90,399.22 L105.00,399.22 L105.10,399.22 L105.20,399.22 L105.30,399.23 L105.40,399.23 L105.50,399.23 L105.60,399.23 L105.70,399.23 L105.80,399.23 L105.90,399.23 L106.00,399.23 L106.10,399.23 L106.20,399.23 L106.30,399.23 L106.40,399.24 L106.50,399.24 L106.60,399.24 L106.70,399.24 L106.80,399.24 L106.90,399.24 L107.00,399.24 L107.10,399.24 L107.20,399.24 L107.30,399.24 L107.40,399.24 L107.50,399.24 L107.60,399.25 L107.70,399.25 L107.80,399.25 L107.90,399.25 L108.00,399.25 L108.10,399.25 L108.20,399.25 L108.30,399.25 L108.40,399.25 L108.50,399.25 L108.60,399.25 L108.70,399.25 L108.80,399.25 L108.90,399.26 L109.00,399.26 L109.10,399.26 L109.20,399.26 L109.30,399.26 L109.40,399.26 L109.50,399.26 L109.60,399.26 L109.70,399.26 L109.80,399.26 L109.90,399.26 L110.00,399.26 L110.10,399.26 L110.20,399.26 L110.30,399.27 L110.40,399.27 L110.50,399.27 L110.60,399.27 L110.70,399.27 L110.80,399.27 L110.90,399.27 L111.00,399.27 L111.10,399.27 L111.20,399.27 L111.30,399.27 L111.40,399.27 L111.50,399.27 L111.60,399.27 L111.70,399.27 L111.80,399.27 L111.90,399.28 L112.00,399.28 L112.10,399.28 L112.20,399.28 L112.30,399.28 L112.40,399.28 L112.50,399.28 L112.60,399.28 L112.70,399.28 L112.80,399.28 L112.90,399.28 L113.00,399.28 L113.10,399.28 L113.20,399.28 L113.30,399.28 L113.40,399.28 L113.50,399.28 L113.60,399.28 L113.70,399.28 L113.80,399.29 L113.90,399.29 L114.00,399.29 L114.10,399.29 L114.20,399.29 L114.30,399.29 L114.40,399.29 L114.50,399.29 L114.60,399.29 L114.70,399.29 L114.80,399.29 L114.90,399.29 L115.00,399.29 L115.10,399.29 L115.20,399.29 L115.30,399.29 L115.40,399.29 L115.50,399.29 L115.60,399.29 L115.70,399.29 L115.80,399.30 L115.90,399.30 L116.00,399.30 L116.10,399.30 L116.20,399.30 L116.30,399.30 L116.40,399.30 L116.50,399.30 L116.60,399.30 L116.70,399.30 L116.80,399.30 L116.90,399.30 L117.00,399.30 L117.10,399.30 L117.20,399.30 L117.30,399.30 L117.40,399.30 L117.50,399.30 L117.60,399.30 L117.70,399.30 L117.80,399.30 L117.90,399.30 L118.00,399.30 L118.10,399.30 L118.20,399.31 L118.30,399.31 L118.40,399.31 L118.50,399.31 L118.60,399.31 L118.70,399.31 L118.80,399.31 L118.90,399.31 L119.00,399.31 L119.10,399.31 L119.20,399.31 L119.30,399.31 L119.40,399.31 L119.50,399.31 L119.60,399.31 L119.70,399.31 L119.80,399.31 L119.90,399.31 L120.00,399.31 L120.10,399.31 L120.20,399.31 L120.30,399.31 L120.40,399.31 L120.50,399.31 L120.60,399.31 L120.70,399.31 L120.80,399.31 L120.90,399.31 L121.00,399.32 L121.10,399.32 L121.20,399.32 L121.30,399.32 L121.40,399.32 L121.50,399.32 L121.60,399.32 L121.70,399.32 L121.80,399.32 L121.90,399.32 L122.00,399.32 L122.10,399.32 L122.20,399.32 L122.30,399.32 L122.40,399.32 L122.50,399.32 L122.60,399.32 L122.70,399.32 L122.80,399.32 L122.90,399.32 L123.00,399.32 L123.10,399.32 L123.20,399.32 L123.30,399.32 L123.40,399.32 L123.50,399.32 L123.60,399.32 L123.70,399.32 L123.80,399.32 L123.90,399.32 L124.00,399.32 L124.10,399.32 L124.20,399.32 L124.30,399.32 L124.40,399.33 L124.50,399.33 L124.60,399.33 L124.70,399.33 L124.80,399.33 L124.90,399.33 L125.00,399.33 L125.10,399.33 L125.20,399.33 L125.30,399.33 L125.40,399.33 L125.50,399.33 L125.60,399.33 L125.70,399.33 L125.80,399.33 L125.90,399.33 L126.00,399.33 L126.10,399.33 L126.20,399.33 L126.30,399.33 L126.40,399.33 L126.50,399.33 L126.60,399.33 L126.70,399.33 L126.80,399.33 L126.90,399.33 L127.00,399.33 L127.10,399.33 L127.20,399.33 L127.30,399.33 L127.40,399.33 L127.50,399.33 L127.60,399.33 L127.70,399.33 L127.80,399.33 L127.90,399.33 L128.00,399.33 L128.10,399.33 L128.20,399.33 L128.30,399.33 L128.40,399.34 L128.50,399.34 L128.60,399.34 L128.70,399.34 L128.80,399.34 L128.90,399.34 L129.00,399.34 L129.10,399.34 L129.20,399.34 L129.30,399.34 L129.40,399.34 L129.50,399.34 L129.60,399.34 L129.70,399.34 L129.80,399.34 L129.90,399.34 L130.00,399.34 L130.10,399.34 L130.20,399.34 L130.30,399.34 L130.40,399.34 L130.50,399.34 L130.60,399.34 L130.70,399.34 L130.80,399.34 L130.90,399.34 L131.00,399.34 L131.10,399.34 L131.20,399.34 L131.30,399.34 L131.40,399.34 L131.50,399.34 L131.60,399.34 L131.70,399.34 L131.80,399.34 L131.90,399.34 L132.00,399.34 L132.10,399.34 L132.20,399.34 L132.30,399.34 L132.40,399.34 L132.50,399.34 L132.60,399.34 L132.70,399.34 L132.80,399.34 L132.90,399.34 L133.00,399.34 L133.10,399.34 L133.20,399.34 L133.30,399.34 L133.40,399.34 L133.50,399.34 L133.60,399.35 L133.70,399.35 L133.80,399.35 L133.90,399.35 L134.00,399.35 L134.10,399.35 L134.20,399.35 L134.30,399.35 L134.40,399.35 L134.50,399.35 L134.60,399.35 L134.70,399.35 L134.80,399.35 L134.90,399.35 L135.00,399.35 L135.10,399.35 L135.20,399.35 L135.30,399.35 L135.40,399.35 L135.50,399.35 L135.60,399.35 L135.70,399.35 L135.80,399.35 L135.90,399.35 L136.00,399.35 L136.10,399.35 L136.20,399.35 L136.30,399.35 L136.40,399.35 L136.50,399.35 L136.60,399.35 L136.70,399.35 L136.80,399.35 L136.90,399.35 L137.00,399.35 L137.10,399.35 L137.20,399.35 L137.30,399.35 L137.40,399.35 L137.50,399.35 L137.60,399.35 L137.70,399.35 L137.80,399.35 L137.90,399.35 L138.00,399.35 L138.10,399.35 L138.20,399.35 L138.30,399.35 L138.40,399.35 L138.50,399.35 L138.60,399.35 L138.70,399.35 L138.80,399.35 L138.90,399.35 L139.00,399.35 L139.10,399.35 L139.20,399.35 L139.30,399.35 L139.40,399.35 L139.50,399.35 L139.60,399.35 L139.70,399.35 L139.80,399.35 L139.90,399.35 L140.00,399.35 L140.10,399.35 L140.20,399.35 L140.30,399.35 L140.40,399.36 L140.50,399.36 L140.60,399.36 L140.70,399.36 L140.80,399.36 L140.90,399.36 L141.00,399.36 L141.10,399.36 L141.20,399.36 L141.30,399.36 L141.40,399.36 L141.50,399.36 L141.60,399.36 L141.70,399.36 L141.80,399.36 L141.90,399.36 L142.00,399.36 L142.10,399.36 L142.20,399.36 L142.30,399.36 L142.40,399.36 L142.50,399.36 L142.60,399.36 L142.70,399.36 L142.80,399.36 L142.90,399.36 L143.00,399.36 L143.10,399.36 L143.20,399.36 L143.30,399.36 L143.40,399.36 L143.50,399.36 L143.60,399.36 L143.70,399.36 L143.80,399.36 L143.90,399.36 L144.00,399.36 L144.10,399.36 L144.20,399.36 L144.30,399.36 L144.40,399.36 L144.50,399.36 L144.60,399.36 L144.70,399.36 L144.80,399.36 L144.90,399.36 L145.00,399.36 L145.10,399.36 L145.20,399.36 L145.30,399.36 L145.40,399.36 L145.50,399.36 L145.60,399.36 L145.70,399.36 L145.80,399.36 L145.90,399.36 L146.00,399.36 L146.10,399.36 L146.20,399.36 L146.30,399.36 L146.40,399.36 L146.50,399.36 L146.60,399.36 L146.70,399.36 L146.80,399.36 L146.90,399.36 L147.00,399.36 L147.10,399.36 L147.20,399.36 L147.30,399.36 L147.40,399.36 L147.50,399.36 L147.60,399.36 L147.70,399.36 L147.80,399.36 L147.90,399.36 L148.00,399.36 L148.10,399.36 L148.20,399.36 L148.30,399.36 L148.40,399.36 L148.50,399.36 L148.60,399.36 L148.70,399.36 L148.80,399.36 L148.90,399.36 L149.00,399.36 L149.10,399.36 L149.20,399.36 L149.30,399.36 L149.40,399.36 L149.50,399.36 L149.60,399.36 L149.70,399.36 L149.80,399.36 L149.90,399.37 L150.00,399.37 L150.10,399.37 L150.20,399.37 L150.30,399.37 L150.40,399.37 L150.50,399.37 L150.60,399.37 L150.70,399.37 L150.80,399.37 L150.90,399.37 L151.00,399.37 L151.10,399.37 L151.20,399.37 L151.30,399.37 L151.40,399.37 L151.50,399.37 L151.60,399.37 L151.70,399.37 L151.80,399.37 L151.90,399.37 L152.00,399.37 L152.10,399.37 L152.20,399.37 L152.30,399.37 L152.40,399.37 L152.50,399.37 L152.60,399.37 L152.70,399.37 L152.80,399.37 L152.90,399.37 L153.00,399.37 L153.10,399.37 L153.20,399.37 L153.30,399.37 L153.40,399.37 L153.50,399.37 L153.60,399.37 L153.70,399.37 L153.80,399.37 L153.90,399.37 L154.00,399.37 L154.10,399.37 L154.20,399.37 L154.30,399.37 L154.40,399.37 L154.50,399.37 L154.60,399.37 L154.70,399.37 L154.80,399.37 L154.90,399.37 L155.00,399.37 L155.10,399.37 L155.20,399.37 L155.30,399.37 L155.40,399.37 L155.50,399.37 L155.60,399.37 L155.70,399.37 L155.80,399.37 L155.90,399.37 L156.00,399.37 L156.10,399.37 L156.20,399.37 L156.30,399.37 L156.40,399.37 L156.50,399.37 L156.60,399.37 L156.70,399.37 L156.80,399.37 L156.90,399.37 L157.00,399.37 L157.10,399.37 L157.20,399.37 L157.30,399.37 L157.40,399.37 L157.50,399.37 L157.60,399.37 L157.70,399.37 L157.80,399.37 L157.90,399.37 L158.00,399.37 L158.10,399.37 L158.20,399.37 L158.30,399.37 L158.40,399.37 L158.50,399.37 L158.60,399.37 L158.70,399.37 L158.80,399.37 L158.90,399.37 L159.00,399.37 L159.10,399.37 L159.20,399.37 L159.30,399.37 L159.40,399.37 L159.50,399.37 L159.60,399.37 L159.70,399.37 L159.80,399.37 L159.90,399.37 L160.00,399.37 L160.10,399.37 L160.20,399.37 L160.30,399.37 L160.40,399.37 L160.50,399.37 L160.60,399.37 L160.70,399.37 L160.80,399.37 L160.90,399.37 L161.00,399.37 L161.10,399.37 L161.20,399.37 L161.30,399.37 L161.40,399.37 L161.50,399.37 L161.60,399.37 L161.70,399.37 L161.80,399.37 L161.90,399.37 L162.00,399.37 L162.10,399.37 L162.20,399.37 L162.30,399.37 L162.40,399.37 L162.50,399.37 L162.60,399.37 L162.70,399.37 L162.80,399.37 L162.90,399.37 L163.00,399.37 L163.10,399.37 L163.20,399.37 L163.30,399.37 L163.40,399.37 L163.50,399.37 L163.60,399.37 L163.70,399.37 L163.80,399.37 L163.90,399.37 L164.00,399.37 L164.10,399.37 L164.20,399.37 L164.30,399.37 L164.40,399.37 L164.50,399.37 L164.60,399.37 L164.70,399.38 L164.80,399.38 L164.90,399.38 L165.00,399.38 L165.10,399.38 L165.20,399.38 L165.30,399.38 L165.40,399.38 L165.50,399.38 L165.60,399.38 L165.70,399.38 L165.80,399.38 L165.90,399.38 L166.00,399.38 L166.10,399.38 L166.20,399.38 L166.30,399.38 L166.40,399.38 L166.50,399.38 L166.60,399.38 L166.70,399.38 L166.80,399.38 L166.90,399.38 L167.00,399.38 L167.10,399.38 L167.20,399.38 L167.30,399.38 L167.40,399.38 L167.50,399.38 L167.60,399.38 L167.70,399.38 L167.80,399.38 L167.90,399.38 L168.00,399.38 L168.10,399.38 L168.20,399.38 L168.30,399.38 L168.40,399.38 L168.50,399.38 L168.60,399.38 L168.70,399.38 L168.80,399.38 L168.90,399.38 L169.00,399.38 L169.10,399.38 L169.20,399.38 L169.30,399.38 L169.40,399.38 L169.50,399.38 L169.60,399.38 L169.70,399.38 L169.80,399.38 L169.90,399.38 L170.00,399.38 L170.10,399.38 L170.20,399.38 L170.30,399.38 L170.40,399.38 L170.50,399.38 L170.60,399.38 L170.70,399.38 L170.80,399.38 L170.90,399.38 L171.00,399.38 L171.10,399.38 L171.20,399.38 L171.30,399.38 L171.40,399.38 L171.50,399.38 L171.60,399.38 L171.70,399.38 L171.80,399.38 L171.90,399.38 L172.00,399.38 L172.10,399.38 L172.20,399.38 L172.30,399.38 L172.40,399.38 L172.50,399.38 L172.60,399.38 L172.70,399.38 L172.80,399.38 L172.90,399.38 L173.00,399.38 L173.10,399.38 L173.20,399.38 L173.30,399.38 L173.40,399.38 L173.50,399.38 L173.60,399.38 L173.70,399.38 L173.80,399.38 L173.90,399.38 L174.00,399.38 L174.10,399.38 L174.20,399.38 L174.30,399.38 L174.40,399.38 L174.50,399.38 L174.60,399.38 L174.70,399.38 L174.80,399.38 L174.90,399.38 L175.00,399.38 L175.10,399.38 L175.20,399.38 L175.30,399.38 L175.40,399.38 L175.50,399.38 L175.60,399.38 L175.70,399.38 L175.80,399.38 L175.90,399.38 L176.00,399.38 L176.10,399.38 L176.20,399.38 L176.30,399.38 L176.40,399.38 L176.50,399.38 L176.60,399.38 L176.70,399.38 L176.80,399.38 L176.90,399.38 L177.00,399.38 L177.10,399.38 L177.20,399.38 L177.30,399.38 L177.40,399.38 L177.50,399.38 L177.60,399.38 L177.70,399.38 L177.80,399.38 L177.90,399.38 L178.00,399.38 L178.10,399.38 L178.20,399.38 L178.30,399.38 L178.40,399.38 L178.50,399.38 L178.60,399.38 L178.70,399.38 L178.80,399.38 L178.90,399.38 L179.00,399.38 L179.10,399.38 L179.20,399.38 L179.30,399.38 L179.40,399.38 L179.50,399.38 L179.60,399.38 L179.70,399.38 L179.80,399.38 L179.90,399.38 L180.00,399.38 L180.10,399.38 L180.20,399.38 L180.30,399.38 L180.40,399.38 L180.50,399.38 L180.60,399.38 L180.70,399.38 L180.80,399.38 L180.90,399.38 L181.00,399.38 L181.10,399.38 L181.20,399.38 L181.30,399.38 L181.40,399.38 L181.50,399.38 L181.60,399.38 L181.70,399.38 L181.80,399.38 L181.90,399.38 L182.00,399.38 L182.10,399.38 L182.20,399.38 L182.30,399.38 L182.40,399.38 L182.50,399.38 L182.60,399.38 L182.70,399.38 L182.80,399.38 L182.90,399.38 L183.00,399.38 L183.10,399.38 L183.20,399.38 L183.30,399.38 L183.40,399.38 L183.50,399.38 L183.60,399.38 L183.70,399.38 L183.80,399.38 L183.90,399.38 L184.00,399.38 L184.10,399.38 L184.20,399.38 L184.30,399.38 L184.40,399.38 L184.50,399.38 L184.60,399.38 L184.70,399.38 L184.80,399.38 L184.90,399.38 L185.00,399.38 L185.10,399.38 L185.20,399.38 L185.30,399.38 L185.40,399.38 L185.50,399.38 L185.60,399.38 L185.70,399.38 L185.80,399.38 L185.90,399.38 L186.00,399.38 L186.10,399.38 L186.20,399.38 L186.30,399.38 L186.40,399.38 L186.50,399.38 L186.60,399.38 L186.70,399.38 L186.80,399.38 L186.90,399.38 L187.00,399.38 L187.10,399.38 L187.20,399.38 L187.30,399.38 L187.40,399.38 L187.50,399.38 L187.60,399.38 L187.70,399.38 L187.80,399.38 L187.90,399.38 L188.00,399.38 L188.10,399.38 L188.20,399.38 L188.30,399.38 L188.40,399.38 L188.50,399.38 L188.60,399.38 L188.70,399.38 L188.80,399.38 L188.90,399.38 L189.00,399.38 L189.10,399.38 L189.20,399.38 L189.30,399.38 L189.40,399.38 L189.50,399.38 L189.60,399.38 L189.70,399.38 L189.80,399.38 L189.90,399.38 L190.00,399.38 L190.10,399.38 L190.20,399.38 L190.30,399.38 L190.40,399.38 L190.50,399.38 L190.60,399.38 L190.70,399.38 L190.80,399.38 L190.90,399.38 L191.00,399.38 L191.10,399.38 L191.20,399.38 L191.30,399.38 L191.40,399.38 L191.50,399.38 L191.60,399.38 L191.70,399.38 L191.80,399.38 L191.90,399.38 L192.00,399.38 L192.10,399.38 L192.20,399.38 L192.30,399.38 L192.40,399.39 L192.50,399.39 L192.60,399.39 L192.70,399.39 L192.80,399.39 L192.90,399.39 L193.00,399.39 L193.10,399.39 L193.20,399.39 L193.30,399.39 L193.40,399.39 L193.50,399.39 L193.60,399.39 L193.70,399.39 L193.80,399.39 L193.90,399.39 L194.00,399.39 L194.10,399.39 L194.20,399.39 L194.30,399.39 L194.40,399.39 L194.50,399.39 L194.60,399.39 L194.70,399.39 L194.80,399.39 L194.90,399.39 L195.00,399.39 L195.10,399.39 L195.20,399.39 L195.30,399.39 L195.40,399.39 L195.50,399.39 L195.60,399.39 L195.70,399.39 L195.80,399.39 L195.90,399.39 L196.00,399.39 L196.10,399.39 L196.20,399.39 L196.30,399.39 L196.40,399.39 L196.50,399.39 L196.60,399.39 L196.70,399.39 L196.80,399.39 L196.90,399.39 L197.00,399.39 L197.10,399.39 L197.20,399.39 L197.30,399.39 L197.40,399.39 L197.50,399.39 L197.60,399.39 L197.70,399.39 L197.80,399.39 L197.90,399.39 L198.00,399.39 L198.10,399.39 L198.20,399.39 L198.30,399.39 L198.40,399.39 L198.50,399.39 L198.60,399.39 L198.70,399.39 L198.80,399.39 L198.90,399.39 L199.00,399.39 L199.10,399.39 L199.20,399.39 L199.30,399.39 L199.40,399.39 L199.50,399.39 L199.60,399.39 L199.70,399.39 L199.80,399.39 L199.90,399.39 L200.00,399.39 L200.10,399.39 L200.20,399.39 L200.30,399.39 L200.40,399.39 L200.50,399.39 L200.60,399.39 L200.70,399.39 L200.80,399.39 L200.90,399.39 L201.00,399.39 L201.10,399.39 L201.20,399.39 L201.30,399.39 L201.40,399.39 L201.50,399.39 L201.60,399.39 L201.70,399.39 L201.80,399.39 L201.90,399.39 L202.00,399.39 L202.10,399.39 L202.20,399.39 L202.30,399.39 L202.40,399.39 L202.50,399.39 L202.60,399.39 L202.70,399.39 L202.80,399.39 L202.90,399.39 L203.00,399.39 L203.10,399.39 L203.20,399.39 L203.30,399.39 L203.40,399.39 L203.50,399.39 L203.60,399.39 L203.70,399.39 L203.80,399.39 L203.90,399.39 L204.00,399.39 L204.10,399.39 L204.20,399.39 L204.30,399.39 L204.40,399.39 L204.50,399.39 L204.60,399.39 L204.70,399.39 L204.80,399.39 L204.90,399.39 L205.00,399.39 L205.10,399.39 L205.20,399.39 L205.30,399.39 L205.40,399.39 L205.50,399.39 L205.60,399.39 L205.70,399.39 L205.80,399.39 L205.90,399.39 L206.00,399.39 L206.10,399.39 L206.20,399.39 L206.30,399.39 L206.40,399.39 L206.50,399.39 L206.60,399.39 L206.70,399.39 L206.80,399.39 L206.90,399.39 L207.00,399.39 L207.10,399.39 L207.20,399.39 L207.30,399.39 L207.40,399.39 L207.50,399.39 L207.60,399.39 L207.70,399.39 L207.80,399.39 L207.90,399.39 L208.00,399.39 L208.10,399.39 L208.20,399.39 L208.30,399.39 L208.40,399.39 L208.50,399.39 L208.60,399.39 L208.70,399.39 L208.80,399.39 L208.90,399.39 L209.00,399.39 L209.10,399.39 L209.20,399.39 L209.30,399.39 L209.40,399.39 L209.50,399.39 L209.60,399.39 L209.70,399.39 L209.80,399.39 L209.90,399.39 L210.00,399.39 L210.10,399.39 L210.20,399.39 L210.30,399.39 L210.40,399.39 L210.50,399.39 L210.60,399.39 L210.70,399.39 L210.80,399.39 L210.90,399.39 L211.00,399.39 L211.10,399.39 L211.20,399.39 L211.30,399.39 L211.40,399.39 L211.50,399.39 L211.60,399.39 L211.70,399.39 L211.80,399.39 L211.90,399.39 L212.00,399.39 L212.10,399.39 L212.20,399.39 L212.30,399.39 L212.40,399.39 L212.50,399.39 L212.60,399.39 L212.70,399.39 L212.80,399.39 L212.90,399.39 L213.00,399.39 L213.10,399.39 L213.20,399.39 L213.30,399.39 L213.40,399.39 L213.50,399.39 L213.60,399.39 L213.70,399.39 L213.80,399.39 L213.90,399.39 L214.00,399.39 L214.10,399.39 L214.20,399.39 L214.30,399.39 L214.40,399.39 L214.50,399.39 L214.60,399.39 L214.70,399.39 L214.80,399.39 L214.90,399.39 L215.00,399.39 L215.10,399.39 L215.20,399.39 L215.30,399.39 L215.40,399.39 L215.50,399.39 L215.60,399.39 L215.70,399.39 L215.80,399.39 L215.90,399.39 L216.00,399.39 L216.10,399.39 L216.20,399.39 L216.30,399.39 L216.40,399.39 L216.50,399.39 L216.60,399.39 L216.70,399.39 L216.80,399.39 L216.90,399.39 L217.00,399.39 L217.10,399.39 L217.20,399.39 L217.30,399.39 L217.40,399.39 L217.50,399.39 L217.60,399.39 L217.70,399.39 L217.80,399.39 L217.90,399.39 L218.00,399.39 L218.10,399.39 L218.20,399.39 L218.30,399.39 L218.40,399.39 L218.50,399.39 L218.60,399.39 L218.70,399.39 L218.80,399.39 L218.90,399.39 L219.00,399.39 L219.10,399.39 L219.20,399.39 L219.30,399.39 L219.40,399.39 L219.50,399.39 L219.60,399.39 L219.70,399.39 L219.80,399.39 L219.90,399.39 L220.00,399.39 L220.10,399.39 L220.20,399.39 L220.30,399.39 L220.40,399.39 L220.50,399.39 L220.60,399.39 L220.70,399.39 L220.80,399.39 L220.90,399.39 L221.00,399.39 L221.10,399.39 L221.20,399.39 L221.30,399.39 L221.40,399.39 L221.50,399.39 L221.60,399.39 L221.70,399.39 L221.80,399.39 L221.90,399.39 L222.00,399.39 L222.10,399.39 L222.20,399.39 L222.30,399.39 L222.40,399.39 L222.50,399.39 L222.60,399.39 L222.70,399.39 L222.80,399.39 L222.90,399.39 L223.00,399.39 L223.10,399.39 L223.20,399.39 L223.30,399.39 L223.40,399.39 L223.50,399.39 L223.60,399.39 L223.70,399.39 L223.80,399.39 L223.90,399.39 L224.00,399.39 L224.10,399.39 L224.20,399.39 L224.30,399.39 L224.40,399.39 L224.50,399.39 L224.60,399.39 L224.70,399.39 L224.80,399.39 L224.90,399.39 L225.00,399.39 L225.10,399.39 L225.20,399.39 L225.30,399.39 L225.40,399.39 L225.50,399.39 L225.60,399.39 L225.70,399.39 L225.80,399.39 L225.90,399.39 L226.00,399.39 L226.10,399.39 L226.20,399.39 L226.30,399.39 L226.40,399.39 L226.50,399.39 L226.60,399.39 L226.70,399.39 L226.80,399.39 L226.90,399.39 L227.00,399.39 L227.10,399.39 L227.20,399.39 L227.30,399.39 L227.40,399.39 L227.50,399.39 L227.60,399.39 L227.70,399.39 L227.80,399.39 L227.90,399.39 L228.00,399.39 L228.10,399.39 L228.20,399.39 L228.30,399.39 L228.40,399.39 L228.50,399.39 L228.60,399.39 L228.70,399.39 L228.80,399.39 L228.90,399.39 L229.00,399.39 L229.10,399.39 L229.20,399.39 L229.30,399.39 L229.40,399.39 L229.50,399.39 L229.60,399.39 L229.70,399.39 L229.80,399.39 L229.90,399.39 L230.00,399.39 L230.10,399.39 L230.20,399.39 L230.30,399.39 L230.40,399.39 L230.50,399.39 L230.60,399.39 L230.70,399.39 L230.80,399.39 L230.90,399.39 L231.00,399.39 L231.10,399.39 L231.20,399.39 L231.30,399.39 L231.40,399.39 L231.50,399.39 L231.60,399.39 L231.70,399.39 L231.80,399.39 L231.90,399.39 L232.00,399.39 L232.10,399.39 L232.20,399.39 L232.30,399.39 L232.40,399.39 L232.50,399.39 L232.60,399.39 L232.70,399.39 L232.80,399.39 L232.90,399.39 L233.00,399.39 L233.10,399.39 L233.20,399.39 L233.30,399.39 L233.40,399.39 L233.50,399.39 L233.60,399.39 L233.70,399.39 L233.80,399.39 L233.90,399.39 L234.00,399.39 L234.10,399.39 L234.20,399.39 L234.30,399.39 L234.40,399.39 L234.50,399.39 L234.60,399.39 L234.70,399.39 L234.80,399.39 L234.90,399.39 L235.00,399.39 L235.10,399.39 L235.20,399.39 L235.30,399.39 L235.40,399.39 L235.50,399.39 L235.60,399.39 L235.70,399.39 L235.80,399.39 L235.90,399.39 L236.00,399.39 L236.10,399.39 L236.20,399.39 L236.30,399.39 L236.40,399.39 L236.50,399.39 L236.60,399.39 L236.70,399.39 L236.80,399.39 L236.90,399.39 L237.00,399.39 L237.10,399.39 L237.20,399.39 L237.30,399.39 L237.40,399.39 L237.50,399.39 L237.60,399.39 L237.70,399.39 L237.80,399.39 L237.90,399.39 L238.00,399.39 L238.10,399.39 L238.20,399.39 L238.30,399.39 L238.40,399.39 L238.50,399.39 L238.60,399.39 L238.70,399.39 L238.80,399.39 L238.90,399.39 L239.00,399.39 L239.10,399.39 L239.20,399.39 L239.30,399.39 L239.40,399.39 L239.50,399.39 L239.60,399.39 L239.70,399.39 L239.80,399.39 L239.90,399.39 L240.00,399.39 L240.10,399.39 L240.20,399.39 L240.30,399.39 L240.40,399.39 L240.50,399.39 L240.60,399.39 L240.70,399.39 L240.80,399.39 L240.90,399.39 L241.00,399.39 L241.10,399.39 L241.20,399.39 L241.30,399.39 L241.40,399.39 L241.50,399.39 L241.60,399.39 L241.70,399.39 L241.80,399.39 L241.90,399.39 L242.00,399.39 L242.10,399.39 L242.20,399.39 L242.30,399.39 L242.40,399.39 L242.50,399.39 L242.60,399.39 L242.70,399.39 L242.80,399.39 L242.90,399.39 L243.00,399.39 L243.10,399.39 L243.20,399.39 L243.30,399.39 L243.40,399.39 L243.50,399.39 L243.60,399.39 L243.70,399.39 L243.80,399.39 L243.90,399.39 L244.00,399.39 L244.10,399.39 L244.20,399.39 L244.30,399.39 L244.40,399.39 L244.50,399.39 L244.60,399.39 L244.70,399.39 L244.80,399.39 L244.90,399.39 L245.00,399.39 L245.10,399.39 L245.20,399.39 L245.30,399.39 L245.40,399.39 L245.50,399.39 L245.60,399.39 L245.70,399.39 L245.80,399.39 L245.90,399.39 L246.00,399.39 L246.10,399.39 L246.20,399.39 L246.30,399.39 L246.40,399.39 L246.50,399.39 L246.60,399.39 L246.70,399.39 L246.80,399.39 L246.90,399.39 L247.00,399.39 L247.10,399.39 L247.20,399.39 L247.30,399.39 L247.40,399.39 L247.50,399.39 L247.60,399.39 L247.70,399.39 L247.80,399.39 L247.90,399.39 L248.00,399.39 L248.10,399.39 L248.20,399.39 L248.30,399.39 L248.40,399.39 L248.50,399.39 L248.60,399.39 L248.70,399.39 L248.80,399.39 L248.90,399.39 L249.00,399.39 L249.10,399.39 L249.20,399.39 L249.30,399.39 L249.40,399.39 L249.50,399.39 L249.60,399.39 L249.70,399.39 L249.80,399.39 L249.90,399.39 L250.00,399.39 L250.10,399.39 L250.20,399.39 L250.30,399.39 L250.40,399.39 L250.50,399.39 L250.60,399.39 L250.70,399.39 L250.80,399.39 L250.90,399.39 L251.00,399.39 L251.10,399.39 L251.20,399.39 L251.30,399.39 L251.40,399.39 L251.50,399.39 L251.60,399.39 L251.70,399.39 L251.80,399.39 L251.90,399.39 L252.00,399.39 L252.10,399.39 L252.20,399.39 L252.30,399.39 L252.40,399.39 L252.50,399.39 L252.60,399.39 L252.70,399.39 L252.80,399.39 L252.90,399.39 L253.00,399.39 L253.10,399.39 L253.20,399.39 L253.30,399.39 L253.40,399.39 L253.50,399.39 L253.60,399.39 L253.70,399.39 L253.80,399.39 L253.90,399.39 L254.00,399.39 L254.10,399.39 L254.20,399.39 L254.30,399.39 L254.40,399.39 L254.50,399.39 L254.60,399.39 L254.70,399.39 L254.80,399.39 L254.90,399.39 L255.00,399.39 L255.10,399.39 L255.20,399.39 L255.30,399.39 L255.40,399.39 L255.50,399.39 L255.60,399.39 L255.70,399.39 L255.80,399.39 L255.90,399.39 L256.00,399.39 L256.10,399.39 L256.20,399.39 L256.30,399.39 L256.40,399.39 L256.50,399.39 L256.60,399.39 L256.70,399.39 L256.80,399.39 L256.90,399.39 L257.00,399.39 L257.10,399.39 L257.20,399.39 L257.30,399.39 L257.40,399.39 L257.50,399.39 L257.60,399.39 L257.70,399.39 L257.80,399.39 L257.90,399.39 L258.00,399.39 L258.10,399.39 L258.20,399.39 L258.30,399.39 L258.40,399.39 L258.50,399.39 L258.60,399.39 L258.70,399.39 L258.80,399.39 L258.90,399.39 L259.00,399.39 L259.10,399.39 L259.20,399.39 L259.30,399.39 L259.40,399.39 L259.50,399.39 L259.60,399.39 L259.70,399.39 L259.80,399.39 L259.90,399.39 L260.00,399.39 L260.10,399.39 L260.20,399.39 L260.30,399.39 L260.40,399.39 L260.50,399.39 L260.60,399.39 L260.70,399.39 L260.80,399.39 L260.90,399.39 L261.00,399.39 L261.10,399.39 L261.20,399.39 L261.30,399.39 L261.40,399.39 L261.50,399.39 L261.60,399.39 L261.70,399.39 L261.80,399.39 L261.90,399.39 L262.00,399.39 L262.10,399.39 L262.20,399.39 L262.30,399.39 L262.40,399.39 L262.50,399.39 L262.60,399.39 L262.70,399.39 L262.80,399.39 L262.90,399.39 L263.00,399.39 L263.10,399.39 L263.20,399.39 L263.30,399.39 L263.40,399.39 L263.50,399.39 L263.60,399.39 L263.70,399.39 L263.80,399.39 L263.90,399.39 L264.00,399.39 L264.10,399.39 L264.20,399.39 L264.30,399.39 L264.40,399.39 L264.50,399.39 L264.60,399.39 L264.70,399.39 L264.80,399.39 L264.90,399.39 L265.00,399.39 L265.10,399.39 L265.20,399.39 L265.30,399.39 L265.40,399.39 L265.50,399.39 L265.60,399.39 L265.70,399.39 L265.80,399.39 L265.90,399.39 L266.00,399.39 L266.10,399.39 L266.20,399.39 L266.30,399.39 L266.40,399.39 L266.50,399.39 L266.60,399.39 L266.70,399.39 L266.80,399.39 L266.90,399.39 L267.00,399.39 L267.10,399.39 L267.20,399.39 L267.30,399.39 L267.40,399.39 L267.50,399.39 L267.60,399.39 L267.70,399.39 L267.80,399.39 L267.90,399.39 L268.00,399.39 L268.10,399.39 L268.20,399.39 L268.30,399.39 L268.40,399.39 L268.50,399.39 L268.60,399.39 L268.70,399.39 L268.80,399.39 L268.90,399.39 L269.00,399.39 L269.10,399.39 L269.20,399.39 L269.30,399.39 L269.40,399.39 L269.50,399.39 L269.60,399.39 L269.70,399.39 L269.80,399.39 L269.90,399.39 L270.00,399.39 L270.10,399.39 L270.20,399.39 L270.30,399.39 L270.40,399.39 L270.50,399.39 L270.60,399.39 L270.70,399.39 L270.80,399.39 L270.90,399.39 L271.00,399.39 L271.10,399.39 L271.20,399.39 L271.30,399.39 L271.40,399.39 L271.50,399.39 L271.60,399.39 L271.70,399.39 L271.80,399.39 L271.90,399.39 L272.00,399.39 L272.10,399.39 L272.20,399.39 L272.30,399.39 L272.40,399.39 L272.50,399.39 L272.60,399.39 L272.70,399.39 L272.80,399.39 L272.90,399.39 L273.00,399.39 L273.10,399.39 L273.20,399.39 L273.30,399.39 L273.40,399.39 L273.50,399.39 L273.60,399.39 L273.70,399.39 L273.80,399.39 L273.90,399.39 L274.00,399.39 L274.10,399.39 L274.20,399.39 L274.30,399.39 L274.40,399.39 L274.50,399.39 L274.60,399.39 L274.70,399.39 L274.80,399.39 L274.90,399.39 L275.00,399.39 L275.10,399.39 L275.20,399.39 L275.30,399.39 L275.40,399.39 L275.50,399.39 L275.60,399.39 L275.70,399.39 L275.80,399.39 L275.90,399.39 L276.00,399.39 L276.10,399.39 L276.20,399.39 L276.30,399.39 L276.40,399.39 L276.50,399.39 L276.60,399.39 L276.70,399.39 L276.80,399.39 L276.90,399.39 L277.00,399.39 L277.10,399.39 L277.20,399.39 L277.30,399.39 L277.40,399.39 L277.50,399.39 L277.60,399.39 L277.70,399.39 L277.80,399.39 L277.90,399.39 L278.00,399.39 L278.10,399.39 L278.20,399.39 L278.30,399.39 L278.40,399.39 L278.50,399.39 L278.60,399.39 L278.70,399.39 L278.80,399.39 L278.90,399.39 L279.00,399.39 L279.10,399.39 L279.20,399.39 L279.30,399.39 L279.40,399.39 L279.50,399.39 L279.60,399.39 L279.70,399.39 L279.80,399.39 L279.90,399.39 L280.00,399.39 L280.10,399.39 L280.20,399.39 L280.30,399.39 L280.40,399.39 L280.50,399.39 L280.60,399.39 L280.70,399.39 L280.80,399.39 L280.90,399.39 L281.00,399.39 L281.10,399.39 L281.20,399.39 L281.30,399.39 L281.40,399.39 L281.50,399.39 L281.60,399.39 L281.70,399.39 L281.80,399.39 L281.90,399.39 L282.00,399.39 L282.10,399.39 L282.20,399.39 L282.30,399.39 L282.40,399.39 L282.50,399.40 L282.60,399.40 L282.70,399.40 L282.80,399.40 L282.90,399.40 L283.00,399.40 L283.10,399.40 L283.20,399.40 L283.30,399.40 L283.40,399.40 L283.50,399.40 L283.60,399.40 L283.70,399.40 L283.80,399.40 L283.90,399.40 L284.00,399.40 L284.10,399.40 L284.20,399.40 L284.30,399.40 L284.40,399.40 L284.50,399.40 L284.60,399.40 L284.70,399.40 L284.80,399.40 L284.90,399.40 L285.00,399.40 L285.10,399.40 L285.20,399.40 L285.30,399.40 L285.40,399.40 L285.50,399.40 L285.60,399.40 L285.70,399.40 L285.80,399.40 L285.90,399.40 L286.00,399.40 L286.10,399.40 L286.20,399.40 L286.30,399.40 L286.40,399.40 L286.50,399.40 L286.60,399.40 L286.70,399.40 L286.80,399.40 L286.90,399.40 L287.00,399.40 L287.10,399.40 L287.20,399.40 L287.30,399.40 L287.40,399.40 L287.50,399.40 L287.60,399.40 L287.70,399.40 L287.80,399.40 L287.90,399.40 L288.00,399.40 L288.10,399.40 L288.20,399.40 L288.30,399.40 L288.40,399.40 L288.50,399.40 L288.60,399.40 L288.70,399.40 L288.80,399.40 L288.90,399.40 L289.00,399.40 L289.10,399.40 L289.20,399.40 L289.30,399.40 L289.40,399.40 L289.50,399.40 L289.60,399.40 L289.70,399.40 L289.80,399.40 L289.90,399.40 L290.00,399.40 L290.10,399.40 L290.20,399.40 L290.30,399.40 L290.40,399.40 L290.50,399.40 L290.60,399.40 L290.70,399.40 L290.80,399.40 L290.90,399.40 L291.00,399.40 L291.10,399.40 L291.20,399.40 L291.30,399.40 L291.40,399.40 L291.50,399.40 L291.60,399.40 L291.70,399.40 L291.80,399.40 L291.90,399.40 L292.00,399.40 L292.10,399.40 L292.20,399.40 L292.30,399.40 L292.40,399.40 L292.50,399.40 L292.60,399.40 L292.70,399.40 L292.80,399.40 L292.90,399.40 L293.00,399.40 L293.10,399.40 L293.20,399.40 L293.30,399.40 L293.40,399.40 L293.50,399.40 L293.60,399.40 L293.70,399.40 L293.80,399.40 L293.90,399.40 L294.00,399.40 L294.10,399.40 L294.20,399.40 L294.30,399.40 L294.40,399.40 L294.50,399.40 L294.60,399.40 L294.70,399.40 L294.80,399.40 L294.90,399.40 L295.00,399.40 L295.10,399.40 L295.20,399.40 L295.30,399.40 L295.40,399.40 L295.50,399.40 L295.60,399.40 L295.70,399.40 L295.80,399.40 L295.90,399.40 L296.00,399.40 L296.10,399.40 L296.20,399.40 L296.30,399.40 L296.40,399.40 L296.50,399.40 L296.60,399.40 L296.70,399.40 L296.80,399.40 L296.90,399.40 L297.00,399.40 L297.10,399.40 L297.20,399.40 L297.30,399.40 L297.40,399.40 L297.50,399.40 L297.60,399.40 L297.70,399.40 L297.80,399.40 L297.90,399.40 L298.00,399.40 L298.10,399.40 L298.20,399.40 L298.30,399.40 L298.40,399.40 L298.50,399.40 L298.60,399.40 L298.70,399.40 L298.80,399.40 L298.90,399.40 L299.00,399.40 L299.10,399.40 L299.20,399.40 L299.30,399.40 L299.40,399.40 L299.50,399.40 L299.60,399.40 L299.70,399.40 L299.80,399.40 L299.90,399.40 L300.00,399.40 L300.10,399.40 L300.20,399.40 L300.30,399.40 L300.40,399.40 L300.50,399.40 L300.60,399.40 L300.70,399.40 L300.80,399.40 L300.90,399.40 L301.00,399.40 L301.10,399.40 L301.20,399.40 L301.30,399.40 L301.40,399.40 L301.50,399.40"/>
</g>
<text x="38.50" y="416.2" text-anchor="middle" class="tk">350</text>
<text x="104.25" y="416.2" text-anchor="middle" class="tk">400</text>
<text x="170.00" y="416.2" text-anchor="middle" class="tk">450</text>
<text x="235.75" y="416.2" text-anchor="middle" class="tk">500</text>
<text x="301.50" y="416.2" text-anchor="middle" class="tk">550</text>
<text x="34.6" y="404.30" text-anchor="end" class="tk">0</text>
<text x="34.6" y="354.60" text-anchor="end" class="tk">50</text>
<text x="34.6" y="304.90" text-anchor="end" class="tk">100</text>
<text class="lb" style="font-size:12.1px" transform="translate(9.1,115.4) rotate(-90)" textLength="100.2" lengthAdjust="spacing">luminescence,a.u.</text>
<text class="lb" transform="translate(9.2,229.0) rotate(-90)">f<tspan font-size="9.2px" dy="5.5">c</tspan><tspan dy="-5.5">(1-f</tspan><tspan font-size="9.2px" dy="5.5">v</tspan><tspan dy="-5.5">)</tspan></text>
<text class="lb" transform="translate(11.4,377.4) rotate(-90)" textLength="54.8" lengthAdjust="spacing">Lorentzian</text>
<text class="lb" x="169.8" y="430.6" text-anchor="middle">wavelength,nm</text>
<text class="lb" x="316.7" y="51.4" text-anchor="middle">(a)</text>
<text class="lb" x="318.8" y="212.9" text-anchor="middle">(b)</text>
<text class="lb" x="319.5" y="343.6" text-anchor="middle">(c)</text>
<rect x="282.6" y="65.5" width="70" height="66.7" fill="#fff" stroke="#868686" stroke-width="1"/>
<path d="M286.7,73.70H310.7" stroke="#0072BD" stroke-width="1.8" fill="none"/>
<text class="lg" x="313.2" y="77.90" textLength="34.2" lengthAdjust="spacingAndGlyphs">T=140K</text>
<path d="M286.7,86.55H310.7" stroke="#D95319" stroke-width="1.8" fill="none"/>
<text class="lg" x="313.2" y="90.75" textLength="34.2" lengthAdjust="spacingAndGlyphs">T=180K</text>
<path d="M286.7,99.40H310.7" stroke="#EDB120" stroke-width="1.8" fill="none"/>
<text class="lg" x="313.2" y="103.60" textLength="34.2" lengthAdjust="spacingAndGlyphs">T=220K</text>
<path d="M286.7,112.25H310.7" stroke="#7E2F8E" stroke-width="1.8" fill="none"/>
<text class="lg" x="313.2" y="116.45" textLength="34.2" lengthAdjust="spacingAndGlyphs">T=260K</text>
<path d="M286.7,125.10H310.7" stroke="#77AC30" stroke-width="1.8" fill="none"/>
<text class="lg" x="313.2" y="129.30" textLength="34.2" lengthAdjust="spacingAndGlyphs">T=300K</text>
</svg></body></html>
